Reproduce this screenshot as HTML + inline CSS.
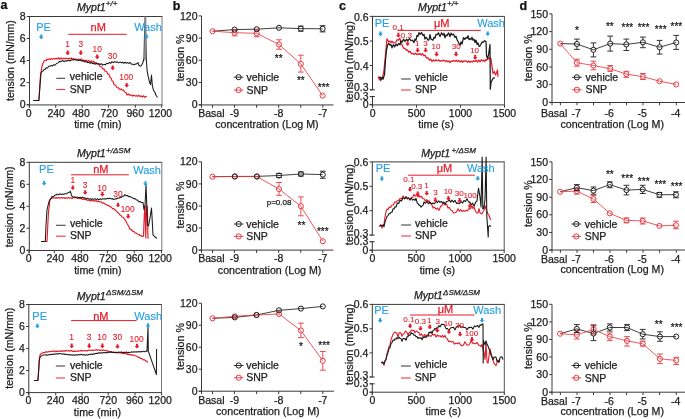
<!DOCTYPE html>
<html><head><meta charset="utf-8"><style>
html,body{margin:0;padding:0;background:#fff;}
svg{display:block;will-change:transform;}
text{font-family:"Liberation Sans",sans-serif;}
</style></head><body>
<svg width="685" height="419" viewBox="0 0 685 419">
<rect width="685" height="419" fill="#fff"/>
<text x="0.5" y="8.8" font-size="12.5" text-anchor="start" fill="#111" stroke="#111" stroke-width="0.25" font-weight="bold">a</text>
<text x="172.8" y="9.6" font-size="12.5" text-anchor="start" fill="#111" stroke="#111" stroke-width="0.25" font-weight="bold">b</text>
<text x="339" y="9.6" font-size="12.5" text-anchor="start" fill="#111" stroke="#111" stroke-width="0.25" font-weight="bold">c</text>
<text x="519.5" y="9.6" font-size="12.5" text-anchor="start" fill="#111" stroke="#111" stroke-width="0.25" font-weight="bold">d</text>
<line x1="29.5" y1="16.5" x2="162.5" y2="16.5" stroke="#3a3a3a" stroke-width="1"/>
<line x1="162" y1="16.5" x2="162" y2="104.95" stroke="#777" stroke-width="1"/>
<line x1="29.5" y1="16" x2="29.5" y2="107.75" stroke="#3a3a3a" stroke-width="1"/>
<line x1="26.7" y1="104.95" x2="162.5" y2="104.95" stroke="#3a3a3a" stroke-width="1"/>
<line x1="26.7" y1="16.5" x2="29.5" y2="16.5" stroke="#3a3a3a" stroke-width="1"/>
<text x="25.5" y="20.1" font-size="10.5" text-anchor="end" fill="#1c1c1c" stroke="#1c1c1c" stroke-width="0.25" >8</text>
<line x1="26.7" y1="38.5" x2="29.5" y2="38.5" stroke="#3a3a3a" stroke-width="1"/>
<text x="25.5" y="42.1" font-size="10.5" text-anchor="end" fill="#1c1c1c" stroke="#1c1c1c" stroke-width="0.25" >6</text>
<line x1="26.7" y1="60.5" x2="29.5" y2="60.5" stroke="#3a3a3a" stroke-width="1"/>
<text x="25.5" y="64.1" font-size="10.5" text-anchor="end" fill="#1c1c1c" stroke="#1c1c1c" stroke-width="0.25" >4</text>
<line x1="26.7" y1="82.6" x2="29.5" y2="82.6" stroke="#3a3a3a" stroke-width="1"/>
<text x="25.5" y="86.2" font-size="10.5" text-anchor="end" fill="#1c1c1c" stroke="#1c1c1c" stroke-width="0.25" >2</text>
<line x1="26.7" y1="104.6" x2="29.5" y2="104.6" stroke="#3a3a3a" stroke-width="1"/>
<text x="25.5" y="108.2" font-size="10.5" text-anchor="end" fill="#1c1c1c" stroke="#1c1c1c" stroke-width="0.25" >0</text>
<line x1="29.3" y1="104.95" x2="29.3" y2="107.75" stroke="#3a3a3a" stroke-width="1"/>
<text x="28.6" y="116.75" font-size="10.5" text-anchor="middle" fill="#1c1c1c" stroke="#1c1c1c" stroke-width="0.25" >0</text>
<line x1="55.7" y1="104.95" x2="55.7" y2="107.75" stroke="#3a3a3a" stroke-width="1"/>
<text x="56.2" y="116.75" font-size="10.5" text-anchor="middle" fill="#1c1c1c" stroke="#1c1c1c" stroke-width="0.25" >240</text>
<line x1="82.2" y1="104.95" x2="82.2" y2="107.75" stroke="#3a3a3a" stroke-width="1"/>
<text x="81" y="116.75" font-size="10.5" text-anchor="middle" fill="#1c1c1c" stroke="#1c1c1c" stroke-width="0.25" >480</text>
<line x1="108.6" y1="104.95" x2="108.6" y2="107.75" stroke="#3a3a3a" stroke-width="1"/>
<text x="109.3" y="116.75" font-size="10.5" text-anchor="middle" fill="#1c1c1c" stroke="#1c1c1c" stroke-width="0.25" >720</text>
<line x1="135.3" y1="104.95" x2="135.3" y2="107.75" stroke="#3a3a3a" stroke-width="1"/>
<text x="135.3" y="116.75" font-size="10.5" text-anchor="middle" fill="#1c1c1c" stroke="#1c1c1c" stroke-width="0.25" >960</text>
<line x1="161.7" y1="104.95" x2="161.7" y2="107.75" stroke="#3a3a3a" stroke-width="1"/>
<text x="160.4" y="116.75" font-size="10.5" text-anchor="middle" fill="#1c1c1c" stroke="#1c1c1c" stroke-width="0.25" >1200</text>
<text x="97.8" y="128" font-size="10.65" text-anchor="middle" fill="#1c1c1c" stroke="#1c1c1c" stroke-width="0.25" >time (min)</text>
<text x="0" y="0" font-size="10.55" text-anchor="middle" fill="#1c1c1c" stroke="#1c1c1c" stroke-width="0.25" transform="translate(13.6,60.6) rotate(-90)">tension (mN/mm)</text>
<text x="76.9" y="10.7" font-size="10.6" text-anchor="start" fill="#1c1c1c" stroke="#1c1c1c" stroke-width="0.25" font-style="italic">Mypt1<tspan font-size="8" dy="-4.4" dx="0">+/+</tspan></text>
<polyline points="33.3,100.5 34.42,100.5 35.54,100.5 36.66,100.5 37.78,100.5 38.9,100.5 39.5,90 40.5,75 42,66.29 43,63.21 44,61.17 45,60.31 46,60.73 47,58.99 48,59.91 49.17,58.83 50.33,59.63 51.5,58.38 52.67,59.38 53.83,58.47 55,59.04 56.25,58.16 57.5,59.2 58.75,57.68 60,59.31 61.25,57.98 62.5,58.95 63.75,58.18 65,58.65 66.25,58.35 67.5,58.96 68.75,58.14 70,58.9 71.25,57.9 72.5,59.36 73.75,58.49 75,59.5 76.25,59.11 77.5,59.66 78.75,59.12 80,59.9 81.25,58.83 82.5,60.56 83.75,59.97 85,61.27 86.25,60 87.5,61.56 88.75,60.32 90,61.98 91.25,60.85 92.5,62.18 93.75,61.21 95,63.12 96,62.51 97,63.87 98.5,63.96 100,66.46 101.5,66.79 103,69.08 104,68.8 105,71.09 106.5,71.52 108,74.28 109,74.43 110,77.28 111,77.94 112,80.84 113,81.36 114,84.65 115.5,85.27 117,87.79 118.5,87.89 120,89.63 121,88.9 122,90.08 123.5,90.08 125,92.29 126,92.5 127,95.02 128.33,93.93 129.67,95.43 131,94.8 132.33,96.06 133.67,95.08 135,96.15 136.25,95.57 137.5,96.4 138.75,95.15 140,96.58 141.13,95.95 142.27,96.99 143.4,95.75 144.53,97.32 145.67,96.4 146.8,96.8" fill="none" stroke="#e51b28" stroke-width="1.15" stroke-linejoin="round" />
<polyline points="33.3,100.5 34.42,100.5 35.54,100.5 36.66,100.5 37.78,100.5 38.9,100.5 40,86 41,73.08 42,71.49 43,71.06 44,69.49 45,69.4 46.25,67.88 47.5,67.99 48.75,66.18 50,66.16 51.25,65.55 52.5,65.95 53.75,64.66 55,65.26 56.5,63.49 58,62.87 59.5,61.42 61,61.64 62.5,60.43 64,61.44 65.5,60.78 67,61.12 68.5,60.27 70,61.06 71.5,59.72 73,59.93 74.5,59.49 76,60.12 77.33,59.9 78.67,60.63 80,60 81.5,60.94 83,60.76 84.5,61.74 86,61.62 87.33,62.51 88.67,62.35 90,63.3 91.25,62.49 92.5,63.64 93.75,63.16 95,64.3 96.25,63.08 97.5,63.98 98.75,63.6 100,64.53 101.33,63.71 102.67,65.13 104,64.34 105.33,64.87 106.67,63.33 108,63.69 109.33,62.58 110.67,63.3 112,61.69 113.33,62.61 114.67,61.64 116,62.13 117.33,61.92 118.67,62.91 120,62.15 121.25,62.78 122.5,62.22 123.75,63.25 125,62.29 126.25,63.2 127.5,62.58 128.75,63.43 130,62.53 131.5,64.21 133,64.16 134,64.8 135,64.18 136.5,63.88 138,62.68 139,65.49 140,65.94 141,65.89 142,64.49 143,62.25 144,58.31 144.6,30 145.3,17 146,45 146.5,62 147,69.84 148,75.57 149.5,82.02 150.5,84.6 151.5,75 152.3,85.46 153.5,90.41 155,92.53 156.25,95.8 157.5,97.5" fill="none" stroke="#1a1a1a" stroke-width="1.05" stroke-linejoin="round" />
<rect x="144.4" y="16.5" width="2.0" height="44" fill="#8c8c8c"/>
<text x="43.6" y="30.6" font-size="11" text-anchor="middle" fill="#22a0e6" stroke="#22a0e6" stroke-width="0.12" >PE</text>
<polygon points="40.2,34.5 42.2,34.5 42.2,36.61 43.55,36.61 41.55,38.9 40.85,38.9 38.85,36.61 40.2,36.61" fill="#22a0e6"/>
<text x="98.2" y="31" font-size="11" text-anchor="middle" fill="#e51b28" stroke="#e51b28" stroke-width="0.25" >nM</text>
<line x1="68.2" y1="34.3" x2="126.7" y2="34.3" stroke="#e51b28" stroke-width="1"/>
<text x="148" y="30.6" font-size="11" text-anchor="middle" fill="#22a0e6" stroke="#22a0e6" stroke-width="0.12" >Wash</text>
<polygon points="145.5,34.3 147.5,34.3 147.5,36.41 148.85,36.41 146.85,38.7 146.15,38.7 144.15,36.41 145.5,36.41" fill="#22a0e6"/>
<text x="67.7" y="47.4" font-size="8.4" text-anchor="middle" fill="#e51b28" stroke="#e51b28" stroke-width="0.1" >1</text>
<polygon points="66.7,50.5 68.7,50.5 68.7,52.61 70.05,52.61 68.05,54.9 67.35,54.9 65.35,52.61 66.7,52.61" fill="#e51b28"/>
<text x="80.8" y="47.4" font-size="8.4" text-anchor="middle" fill="#e51b28" stroke="#e51b28" stroke-width="0.1" >3</text>
<polygon points="79.8,50.5 81.8,50.5 81.8,52.61 83.15,52.61 81.15,54.9 80.45,54.9 78.45,52.61 79.8,52.61" fill="#e51b28"/>
<text x="97.2" y="51.5" font-size="8.4" text-anchor="middle" fill="#e51b28" stroke="#e51b28" stroke-width="0.1" >10</text>
<polygon points="96.2,54.5 98.2,54.5 98.2,56.61 99.55,56.61 97.55,58.9 96.85,58.9 94.85,56.61 96.2,56.61" fill="#e51b28"/>
<text x="112.4" y="58.6" font-size="8.4" text-anchor="middle" fill="#e51b28" stroke="#e51b28" stroke-width="0.1" >30</text>
<polygon points="111.7,65.5 113.7,65.5 113.7,67.61 115.05,67.61 113.05,69.9 112.35,69.9 110.35,67.61 111.7,67.61" fill="#e51b28"/>
<text x="126.3" y="79.8" font-size="8.4" text-anchor="middle" fill="#e51b28" stroke="#e51b28" stroke-width="0.1" >100</text>
<polygon points="125.7,82.9 127.7,82.9 127.7,85.01 129.05,85.01 127.05,87.3 126.35,87.3 124.35,85.01 125.7,85.01" fill="#e51b28"/>
<line x1="56.3" y1="78.3" x2="65.2" y2="78.3" stroke="#444" stroke-width="1.1"/>
<text x="69.8" y="80.4" font-size="10.5" text-anchor="start" fill="#1c1c1c" stroke="#1c1c1c" stroke-width="0.25" >vehicle</text>
<line x1="56.3" y1="89.5" x2="65.2" y2="89.5" stroke="#ec3b45" stroke-width="1.1"/>
<text x="69.8" y="92.5" font-size="10.5" text-anchor="start" fill="#1c1c1c" stroke="#1c1c1c" stroke-width="0.25" >SNP</text>
<line x1="201.5" y1="15.9" x2="201.5" y2="107.75" stroke="#3a3a3a" stroke-width="1"/>
<line x1="198.7" y1="104.95" x2="333.5" y2="104.95" stroke="#3a3a3a" stroke-width="1"/>
<line x1="198.7" y1="15.9" x2="201.5" y2="15.9" stroke="#3a3a3a" stroke-width="1"/>
<text x="197.5" y="19.5" font-size="10.5" text-anchor="end" fill="#1c1c1c" stroke="#1c1c1c" stroke-width="0.25" >120</text>
<line x1="198.7" y1="38.1" x2="201.5" y2="38.1" stroke="#3a3a3a" stroke-width="1"/>
<text x="197.5" y="41.7" font-size="10.5" text-anchor="end" fill="#1c1c1c" stroke="#1c1c1c" stroke-width="0.25" >90</text>
<line x1="198.7" y1="60.3" x2="201.5" y2="60.3" stroke="#3a3a3a" stroke-width="1"/>
<text x="197.5" y="63.9" font-size="10.5" text-anchor="end" fill="#1c1c1c" stroke="#1c1c1c" stroke-width="0.25" >60</text>
<line x1="198.7" y1="82.5" x2="201.5" y2="82.5" stroke="#3a3a3a" stroke-width="1"/>
<text x="197.5" y="86.1" font-size="10.5" text-anchor="end" fill="#1c1c1c" stroke="#1c1c1c" stroke-width="0.25" >30</text>
<line x1="198.7" y1="104.8" x2="201.5" y2="104.8" stroke="#3a3a3a" stroke-width="1"/>
<text x="197.5" y="108.4" font-size="10.5" text-anchor="end" fill="#1c1c1c" stroke="#1c1c1c" stroke-width="0.25" >0</text>
<line x1="212.5" y1="104.95" x2="212.5" y2="107.75" stroke="#3a3a3a" stroke-width="1"/>
<text x="211.4" y="116.55" font-size="10.5" text-anchor="middle" fill="#1c1c1c" stroke="#1c1c1c" stroke-width="0.25" >Basal</text>
<line x1="234.4" y1="104.95" x2="234.4" y2="107.75" stroke="#3a3a3a" stroke-width="1"/>
<text x="234.4" y="116.55" font-size="10.5" text-anchor="middle" fill="#1c1c1c" stroke="#1c1c1c" stroke-width="0.25" >-9</text>
<line x1="256.6" y1="104.95" x2="256.6" y2="107.75" stroke="#3a3a3a" stroke-width="1"/>
<line x1="278.7" y1="104.95" x2="278.7" y2="107.75" stroke="#3a3a3a" stroke-width="1"/>
<text x="278.7" y="116.55" font-size="10.5" text-anchor="middle" fill="#1c1c1c" stroke="#1c1c1c" stroke-width="0.25" >-8</text>
<line x1="300.8" y1="104.95" x2="300.8" y2="107.75" stroke="#3a3a3a" stroke-width="1"/>
<line x1="322.8" y1="104.95" x2="322.8" y2="107.75" stroke="#3a3a3a" stroke-width="1"/>
<text x="322.8" y="116.55" font-size="10.5" text-anchor="middle" fill="#1c1c1c" stroke="#1c1c1c" stroke-width="0.25" >-7</text>
<text x="266.9" y="128.1" font-size="10.65" text-anchor="middle" fill="#1c1c1c" stroke="#1c1c1c" stroke-width="0.25" >concentration (Log M)</text>
<text x="0" y="0" font-size="10.7" text-anchor="middle" fill="#1c1c1c" stroke="#1c1c1c" stroke-width="0.25" transform="translate(184.4,57.9) rotate(-90)">tension %</text>
<polyline points="212.6,31.2 234.6,29.6 256.7,29.2 279,27.8 300.8,28.6 322.6,28.8" fill="none" stroke="#1e1e1e" stroke-width="0.85" stroke-linejoin="round" />
<polyline points="212.6,31.2 234.6,32.7 256.7,33.3 279,44.5 300.8,63.9 322.6,95.6" fill="none" stroke="#ea3a42" stroke-width="0.85" stroke-linejoin="round" />
<circle cx="212.6" cy="31.2" r="2.55" fill="none" stroke="#ea3a42" stroke-width="1.0"/>
<line x1="234.6" y1="35.25" x2="234.6" y2="35.9" stroke="#ea3a42" stroke-width="0.9"/>
<line x1="231.7" y1="30.2" x2="237.5" y2="30.2" stroke="#ea3a42" stroke-width="0.9"/>
<line x1="231.7" y1="35.9" x2="237.5" y2="35.9" stroke="#ea3a42" stroke-width="0.9"/>
<circle cx="234.6" cy="32.7" r="2.55" fill="none" stroke="#ea3a42" stroke-width="1.0"/>
<line x1="256.7" y1="30.2" x2="256.7" y2="30.75" stroke="#ea3a42" stroke-width="0.9"/>
<line x1="256.7" y1="35.85" x2="256.7" y2="36.8" stroke="#ea3a42" stroke-width="0.9"/>
<line x1="253.8" y1="30.2" x2="259.6" y2="30.2" stroke="#ea3a42" stroke-width="0.9"/>
<line x1="253.8" y1="36.8" x2="259.6" y2="36.8" stroke="#ea3a42" stroke-width="0.9"/>
<circle cx="256.7" cy="33.3" r="2.55" fill="none" stroke="#ea3a42" stroke-width="1.0"/>
<line x1="279" y1="39.8" x2="279" y2="41.95" stroke="#ea3a42" stroke-width="0.9"/>
<line x1="279" y1="47.05" x2="279" y2="49.2" stroke="#ea3a42" stroke-width="0.9"/>
<line x1="276.1" y1="39.8" x2="281.9" y2="39.8" stroke="#ea3a42" stroke-width="0.9"/>
<line x1="276.1" y1="49.2" x2="281.9" y2="49.2" stroke="#ea3a42" stroke-width="0.9"/>
<circle cx="279" cy="44.5" r="2.55" fill="none" stroke="#ea3a42" stroke-width="1.0"/>
<line x1="300.8" y1="55.2" x2="300.8" y2="61.35" stroke="#ea3a42" stroke-width="0.9"/>
<line x1="300.8" y1="66.45" x2="300.8" y2="72.1" stroke="#ea3a42" stroke-width="0.9"/>
<line x1="297.9" y1="55.2" x2="303.7" y2="55.2" stroke="#ea3a42" stroke-width="0.9"/>
<line x1="297.9" y1="72.1" x2="303.7" y2="72.1" stroke="#ea3a42" stroke-width="0.9"/>
<circle cx="300.8" cy="63.9" r="2.55" fill="none" stroke="#ea3a42" stroke-width="1.0"/>
<circle cx="322.6" cy="95.6" r="2.55" fill="none" stroke="#ea3a42" stroke-width="1.0"/>
<circle cx="234.6" cy="29.6" r="2.55" fill="none" stroke="#1e1e1e" stroke-width="1.0"/>
<circle cx="256.7" cy="29.2" r="2.55" fill="none" stroke="#1e1e1e" stroke-width="1.0"/>
<circle cx="279" cy="27.8" r="2.55" fill="none" stroke="#1e1e1e" stroke-width="1.0"/>
<line x1="300.8" y1="31.15" x2="300.8" y2="31.2" stroke="#1e1e1e" stroke-width="0.9"/>
<line x1="297.9" y1="26.1" x2="303.7" y2="26.1" stroke="#1e1e1e" stroke-width="0.9"/>
<line x1="297.9" y1="31.2" x2="303.7" y2="31.2" stroke="#1e1e1e" stroke-width="0.9"/>
<circle cx="300.8" cy="28.6" r="2.55" fill="none" stroke="#1e1e1e" stroke-width="1.0"/>
<line x1="322.6" y1="25.7" x2="322.6" y2="26.25" stroke="#1e1e1e" stroke-width="0.9"/>
<line x1="322.6" y1="31.35" x2="322.6" y2="31.9" stroke="#1e1e1e" stroke-width="0.9"/>
<line x1="319.7" y1="25.7" x2="325.5" y2="25.7" stroke="#1e1e1e" stroke-width="0.9"/>
<line x1="319.7" y1="31.9" x2="325.5" y2="31.9" stroke="#1e1e1e" stroke-width="0.9"/>
<circle cx="322.6" cy="28.8" r="2.55" fill="none" stroke="#1e1e1e" stroke-width="1.0"/>
<text x="278.7" y="61.9" font-size="10" text-anchor="middle" fill="#1c1c1c" stroke="#1c1c1c" stroke-width="0.25" >**</text>
<text x="300.8" y="83.9" font-size="10" text-anchor="middle" fill="#1c1c1c" stroke="#1c1c1c" stroke-width="0.25" >**</text>
<text x="323.6" y="90.5" font-size="10" text-anchor="middle" fill="#1c1c1c" stroke="#1c1c1c" stroke-width="0.25" >***</text>
<line x1="233.8" y1="77.2" x2="243.4" y2="77.2" stroke="#1e1e1e" stroke-width="0.9"/>
<circle cx="238.6" cy="77.2" r="2.6" fill="none" stroke="#1e1e1e" stroke-width="1.0"/>
<line x1="233.8" y1="90.1" x2="243.4" y2="90.1" stroke="#ea3a42" stroke-width="0.9"/>
<circle cx="238.6" cy="90.1" r="2.6" fill="none" stroke="#ea3a42" stroke-width="1.0"/>
<text x="246.4" y="80.8" font-size="10.5" text-anchor="start" fill="#1c1c1c" stroke="#1c1c1c" stroke-width="0.25" >vehicle</text>
<text x="246.4" y="93.7" font-size="10.5" text-anchor="start" fill="#1c1c1c" stroke="#1c1c1c" stroke-width="0.25" >SNP</text>
<line x1="372.5" y1="16.4" x2="505" y2="16.4" stroke="#3a3a3a" stroke-width="1"/>
<line x1="504.5" y1="16.4" x2="504.5" y2="104.9" stroke="#555" stroke-width="1"/>
<line x1="372.5" y1="15.9" x2="372.5" y2="89.8" stroke="#3a3a3a" stroke-width="1"/>
<line x1="370.1" y1="89.8" x2="374.9" y2="89.8" stroke="#3a3a3a" stroke-width="1"/>
<line x1="372.5" y1="96.5" x2="372.5" y2="107.7" stroke="#3a3a3a" stroke-width="1"/>
<line x1="370.1" y1="96.5" x2="374.9" y2="96.5" stroke="#3a3a3a" stroke-width="1"/>
<line x1="369.7" y1="104.9" x2="505" y2="104.9" stroke="#3a3a3a" stroke-width="1"/>
<line x1="369.7" y1="16.4" x2="372.5" y2="16.4" stroke="#3a3a3a" stroke-width="1"/>
<text x="368.5" y="20.8" font-size="10.5" text-anchor="end" fill="#1c1c1c" stroke="#1c1c1c" stroke-width="0.25" >0.6</text>
<line x1="369.7" y1="41" x2="372.5" y2="41" stroke="#3a3a3a" stroke-width="1"/>
<text x="368.5" y="45.4" font-size="10.5" text-anchor="end" fill="#1c1c1c" stroke="#1c1c1c" stroke-width="0.25" >0.5</text>
<line x1="369.7" y1="65.5" x2="372.5" y2="65.5" stroke="#3a3a3a" stroke-width="1"/>
<text x="368.5" y="69.9" font-size="10.5" text-anchor="end" fill="#1c1c1c" stroke="#1c1c1c" stroke-width="0.25" >0.4</text>
<line x1="369.7" y1="89.8" x2="372.5" y2="89.8" stroke="#3a3a3a" stroke-width="1"/>
<text x="368.5" y="91.1" font-size="10.5" text-anchor="end" fill="#1c1c1c" stroke="#1c1c1c" stroke-width="0.25" >0.3</text>
<line x1="369.7" y1="96.7" x2="372.5" y2="96.7" stroke="#3a3a3a" stroke-width="1"/>
<text x="368.5" y="100.1" font-size="10.5" text-anchor="end" fill="#1c1c1c" stroke="#1c1c1c" stroke-width="0.25" >0.3</text>
<line x1="369.7" y1="104.4" x2="372.5" y2="104.4" stroke="#3a3a3a" stroke-width="1"/>
<text x="368.5" y="108" font-size="10.5" text-anchor="end" fill="#1c1c1c" stroke="#1c1c1c" stroke-width="0.25" >0</text>
<line x1="372.6" y1="104.9" x2="372.6" y2="107.7" stroke="#3a3a3a" stroke-width="1"/>
<text x="372.6" y="116.7" font-size="10.5" text-anchor="middle" fill="#1c1c1c" stroke="#1c1c1c" stroke-width="0.25" >0</text>
<line x1="416.57" y1="104.9" x2="416.57" y2="107.7" stroke="#3a3a3a" stroke-width="1"/>
<text x="416.57" y="116.7" font-size="10.5" text-anchor="middle" fill="#1c1c1c" stroke="#1c1c1c" stroke-width="0.25" >500</text>
<line x1="460.53" y1="104.9" x2="460.53" y2="107.7" stroke="#3a3a3a" stroke-width="1"/>
<text x="460.53" y="116.7" font-size="10.5" text-anchor="middle" fill="#1c1c1c" stroke="#1c1c1c" stroke-width="0.25" >1000</text>
<line x1="504.5" y1="104.9" x2="504.5" y2="107.7" stroke="#3a3a3a" stroke-width="1"/>
<text x="504.5" y="116.7" font-size="10.5" text-anchor="middle" fill="#1c1c1c" stroke="#1c1c1c" stroke-width="0.25" >1500</text>
<text x="436" y="128.2" font-size="10.65" text-anchor="middle" fill="#1c1c1c" stroke="#1c1c1c" stroke-width="0.25" >time (s)</text>
<text x="0" y="0" font-size="11.0" text-anchor="middle" fill="#1c1c1c" stroke="#1c1c1c" stroke-width="0.25" transform="translate(353.3,61.8) rotate(-90)">tension (mN/mg)</text>
<text x="418.1" y="10.7" font-size="10.6" text-anchor="start" fill="#1c1c1c" stroke="#1c1c1c" stroke-width="0.25" font-style="italic">Mypt1<tspan font-size="8" dy="-4.4" dx="0">+/+</tspan></text>
<polyline points="378,76.39 379,78.74 380.5,80.54 381.5,78.44 382.5,77.73 384,70 385.5,55 387,38.76 388.5,41.67 390,41.09 391,42.68 392,41.23 393.5,42.97 395,42.58 396,41.83 397,39.74 398.5,40.02 400,38.27 401,43.34 402,44.58 403.5,48.11 405,48.55 406.25,50.18 407.5,49.8 408.75,52.22 410,51.24 411.5,53.89 413,53.35 414.25,54.46 415.5,53.06 416.75,54.61 418,53.77 419,54.46 420,53.35 421.25,55.14 422.5,53.63 423.75,55.78 425,55.15 426.5,58.01 428,57.7 429.33,60.19 430.67,59.04 432,61.44 433.5,60 435,61.02 436.25,59.78 437.5,60.72 438.75,60 440,61.42 441.25,60.42 442.5,60.96 443.75,60.12 445,61.43 446.25,60.46 447.5,61.86 448.75,60.89 450,62.6 451.25,60.9 452.5,61.55 453.75,60.4 455,61.26 456.25,60.33 457.5,61.5 458.75,60.39 460,61.96 461.25,60.69 462.5,62.26 463.75,60.87 465,61.22 466.25,60.87 467.5,62.38 468.75,61.01 470,62.39 471.25,61.33 472.5,61.93 473.75,60.81 475,61.41 476.25,60.33 477.5,62.1 478.75,59.99 480,61.85 481.2,59.8 482.4,60.9 483.6,60.14 484.8,61.51 486,59.41 487,60.2 488,57.95 489,59 490,57.5 491,59 492,66.7 493,73.3 494.5,71.7 495.5,75 496.5,73.3 497.5,70 498,76.7" fill="none" stroke="#e51b28" stroke-width="1.25" stroke-linejoin="round" />
<polyline points="379,77.63 380,76.9 381,79.84 382,77.31 383,79.23 384.5,74.63 385.5,60 386.5,50 387.5,45.29 388.75,43.2 390,45.17 391,44.62 392,47.79 393.33,44.68 394.67,46.88 396,44 397.33,45.75 398.67,43.5 400,44.74 401,40.75 402,42.27 403.5,39.2 405,41.3 406.5,39.28 408,40.73 409.5,38.48 411,40.73 412.5,40.18 414,42.59 415,39.01 416,40.37 417,35.39 418,36.36 419,32.62 420,34.47 421.5,32.6 423,35.55 424,34.3 425,39.01 426,37.28 427,38.48 428,40.2 429,39.9 430,34.56 431,39.13 432,39.57 433,40.2 434,37.14 435,38.21 436,34.33 437,34.76 438.5,32.8 440,36.61 441.5,32.76 443,35.18 444,33.26 445,37.8 446,34.83 447,35.79 448.5,32.85 450,36.65 451,33.16 452,34.96 453.5,34.16 455,37.44 456,36.2 457,39.51 458.5,42.53 460,45.38 461,41.92 462,44.01 463.5,37.61 464.75,39.45 466,37.5 467,38.27 468,35.65 469,39.71 470,38.76 471,39.61 472,37.36 473,40.22 474,39.22 475,42.52 476,40.03 477,44.29 478,42.9 479,46.29 480,46.01 481,44.19 482,42.03 483,42.27 484.5,40.71 486,41.5 486.5,55.8 487.5,58.3 488.5,55 490,44.5 490.3,89.2 491,82.5 492,80.4 493.5,77.79 495,78" fill="none" stroke="#1a1a1a" stroke-width="1.25" stroke-linejoin="round" />
<text x="382.1" y="27.2" font-size="11" text-anchor="middle" fill="#22a0e6" stroke="#22a0e6" stroke-width="0.12" >PE</text>
<polygon points="379.5,31.5 381.5,31.5 381.5,33.61 382.85,33.61 380.85,35.9 380.15,35.9 378.15,33.61 379.5,33.61" fill="#22a0e6"/>
<text x="441.8" y="26.6" font-size="11" text-anchor="middle" fill="#e51b28" stroke="#e51b28" stroke-width="0.25" >μM</text>
<line x1="397.6" y1="30.4" x2="480.8" y2="30.4" stroke="#e51b28" stroke-width="1"/>
<text x="491.1" y="27.3" font-size="11" text-anchor="middle" fill="#22a0e6" stroke="#22a0e6" stroke-width="0.12" >Wash</text>
<polygon points="486.7,31.4 488.7,31.4 488.7,33.51 490.05,33.51 488.05,35.8 487.35,35.8 485.35,33.51 486.7,33.51" fill="#22a0e6"/>
<text x="398.1" y="30.2" font-size="8.0" text-anchor="middle" fill="#e51b28" stroke="#e51b28" stroke-width="0.1" >0.1</text>
<polygon points="397.4,32.8 399.4,32.8 399.4,34.91 400.75,34.91 398.75,37.2 398.05,37.2 396.05,34.91 397.4,34.91" fill="#e51b28"/>
<text x="406.3" y="37.7" font-size="8.0" text-anchor="middle" fill="#e51b28" stroke="#e51b28" stroke-width="0.1" >0.3</text>
<polygon points="406.6,41.3 408.6,41.3 408.6,43.41 409.95,43.41 407.95,45.7 407.25,45.7 405.25,43.41 406.6,43.41" fill="#e51b28"/>
<text x="417.3" y="45.7" font-size="8.0" text-anchor="middle" fill="#e51b28" stroke="#e51b28" stroke-width="0.1" >1</text>
<polygon points="416.6,47.8 418.6,47.8 418.6,49.91 419.95,49.91 417.95,52.2 417.25,52.2 415.25,49.91 416.6,49.91" fill="#e51b28"/>
<text x="425.6" y="45.7" font-size="8.0" text-anchor="middle" fill="#e51b28" stroke="#e51b28" stroke-width="0.1" >3</text>
<polygon points="424.6,47.8 426.6,47.8 426.6,49.91 427.95,49.91 425.95,52.2 425.25,52.2 423.25,49.91 424.6,49.91" fill="#e51b28"/>
<text x="435.9" y="48.6" font-size="8.0" text-anchor="middle" fill="#e51b28" stroke="#e51b28" stroke-width="0.1" >10</text>
<polygon points="435.6,51.8 437.6,51.8 437.6,53.91 438.95,53.91 436.95,56.2 436.25,56.2 434.25,53.91 435.6,53.91" fill="#e51b28"/>
<text x="456.2" y="49" font-size="8.0" text-anchor="middle" fill="#e51b28" stroke="#e51b28" stroke-width="0.1" >30</text>
<polygon points="455.1,51.8 457.1,51.8 457.1,53.91 458.45,53.91 456.45,56.2 455.75,56.2 453.75,53.91 455.1,53.91" fill="#e51b28"/>
<text x="474.6" y="53" font-size="8.0" text-anchor="middle" fill="#e51b28" stroke="#e51b28" stroke-width="0.1" >10</text>
<polygon points="474.2,55.1 476.2,55.1 476.2,57.21 477.55,57.21 475.55,59.5 474.85,59.5 472.85,57.21 474.2,57.21" fill="#e51b28"/>
<line x1="401.1" y1="79" x2="410.8" y2="79" stroke="#444" stroke-width="1.1"/>
<text x="415.1" y="80.7" font-size="10.5" text-anchor="start" fill="#1c1c1c" stroke="#1c1c1c" stroke-width="0.25" >vehicle</text>
<line x1="401.1" y1="90" x2="410.8" y2="90" stroke="#ec3b45" stroke-width="1.1"/>
<text x="415.1" y="93.2" font-size="10.5" text-anchor="start" fill="#1c1c1c" stroke="#1c1c1c" stroke-width="0.25" >SNP</text>
<line x1="552" y1="13.9" x2="552" y2="105.3" stroke="#3a3a3a" stroke-width="1"/>
<line x1="549.2" y1="102.5" x2="685" y2="102.5" stroke="#3a3a3a" stroke-width="1"/>
<line x1="549.2" y1="13.9" x2="552" y2="13.9" stroke="#3a3a3a" stroke-width="1"/>
<text x="548" y="17.5" font-size="10.5" text-anchor="end" fill="#1c1c1c" stroke="#1c1c1c" stroke-width="0.25" >150</text>
<line x1="549.2" y1="31.6" x2="552" y2="31.6" stroke="#3a3a3a" stroke-width="1"/>
<text x="548" y="35.2" font-size="10.5" text-anchor="end" fill="#1c1c1c" stroke="#1c1c1c" stroke-width="0.25" >120</text>
<line x1="549.2" y1="49.3" x2="552" y2="49.3" stroke="#3a3a3a" stroke-width="1"/>
<text x="548" y="52.9" font-size="10.5" text-anchor="end" fill="#1c1c1c" stroke="#1c1c1c" stroke-width="0.25" >90</text>
<line x1="549.2" y1="67" x2="552" y2="67" stroke="#3a3a3a" stroke-width="1"/>
<text x="548" y="70.6" font-size="10.5" text-anchor="end" fill="#1c1c1c" stroke="#1c1c1c" stroke-width="0.25" >60</text>
<line x1="549.2" y1="84.6" x2="552" y2="84.6" stroke="#3a3a3a" stroke-width="1"/>
<text x="548" y="88.2" font-size="10.5" text-anchor="end" fill="#1c1c1c" stroke="#1c1c1c" stroke-width="0.25" >30</text>
<line x1="549.2" y1="102.3" x2="552" y2="102.3" stroke="#3a3a3a" stroke-width="1"/>
<text x="548" y="105.9" font-size="10.5" text-anchor="end" fill="#1c1c1c" stroke="#1c1c1c" stroke-width="0.25" >0</text>
<line x1="560.4" y1="102.5" x2="560.4" y2="105.3" stroke="#3a3a3a" stroke-width="1"/>
<text x="554.1" y="116.5" font-size="10.5" text-anchor="middle" fill="#1c1c1c" stroke="#1c1c1c" stroke-width="0.25" >Basal</text>
<line x1="577" y1="102.5" x2="577" y2="105.3" stroke="#3a3a3a" stroke-width="1"/>
<text x="576.2" y="116.5" font-size="10.5" text-anchor="middle" fill="#1c1c1c" stroke="#1c1c1c" stroke-width="0.25" >-7</text>
<line x1="593.5" y1="102.5" x2="593.5" y2="105.3" stroke="#3a3a3a" stroke-width="1"/>
<line x1="610" y1="102.5" x2="610" y2="105.3" stroke="#3a3a3a" stroke-width="1"/>
<text x="609.2" y="116.5" font-size="10.5" text-anchor="middle" fill="#1c1c1c" stroke="#1c1c1c" stroke-width="0.25" >-6</text>
<line x1="626.6" y1="102.5" x2="626.6" y2="105.3" stroke="#3a3a3a" stroke-width="1"/>
<line x1="643" y1="102.5" x2="643" y2="105.3" stroke="#3a3a3a" stroke-width="1"/>
<text x="642.2" y="116.5" font-size="10.5" text-anchor="middle" fill="#1c1c1c" stroke="#1c1c1c" stroke-width="0.25" >-5</text>
<line x1="659.6" y1="102.5" x2="659.6" y2="105.3" stroke="#3a3a3a" stroke-width="1"/>
<line x1="676.3" y1="102.5" x2="676.3" y2="105.3" stroke="#3a3a3a" stroke-width="1"/>
<text x="675.6" y="116.5" font-size="10.5" text-anchor="middle" fill="#1c1c1c" stroke="#1c1c1c" stroke-width="0.25" >-4</text>
<text x="612.2" y="127.6" font-size="10.65" text-anchor="middle" fill="#1c1c1c" stroke="#1c1c1c" stroke-width="0.25" >concentration (Log M)</text>
<text x="0" y="0" font-size="10.7" text-anchor="middle" fill="#1c1c1c" stroke="#1c1c1c" stroke-width="0.25" transform="translate(532.3,57.7) rotate(-90)">tension %</text>
<polyline points="560.3,43.6 576.9,44 593.4,49.8 610.2,43.6 626.3,44.4 642.9,42.3 659.6,47.2 676.2,42.5" fill="none" stroke="#1e1e1e" stroke-width="0.85" stroke-linejoin="round" />
<polyline points="560.3,43.6 576.9,62.7 593.4,65.5 610.2,68.7 626.3,74.1 642.9,76.7 659.6,81.2 676.2,84.4" fill="none" stroke="#ea3a42" stroke-width="0.85" stroke-linejoin="round" />
<circle cx="560.3" cy="43.6" r="2.55" fill="none" stroke="#ea3a42" stroke-width="1.0"/>
<line x1="576.9" y1="59.1" x2="576.9" y2="60.15" stroke="#ea3a42" stroke-width="0.9"/>
<line x1="576.9" y1="65.25" x2="576.9" y2="66.2" stroke="#ea3a42" stroke-width="0.9"/>
<line x1="574" y1="59.1" x2="579.8" y2="59.1" stroke="#ea3a42" stroke-width="0.9"/>
<line x1="574" y1="66.2" x2="579.8" y2="66.2" stroke="#ea3a42" stroke-width="0.9"/>
<circle cx="576.9" cy="62.7" r="2.55" fill="none" stroke="#ea3a42" stroke-width="1.0"/>
<line x1="593.4" y1="61.2" x2="593.4" y2="62.95" stroke="#ea3a42" stroke-width="0.9"/>
<line x1="593.4" y1="68.05" x2="593.4" y2="69.8" stroke="#ea3a42" stroke-width="0.9"/>
<line x1="590.5" y1="61.2" x2="596.3" y2="61.2" stroke="#ea3a42" stroke-width="0.9"/>
<line x1="590.5" y1="69.8" x2="596.3" y2="69.8" stroke="#ea3a42" stroke-width="0.9"/>
<circle cx="593.4" cy="65.5" r="2.55" fill="none" stroke="#ea3a42" stroke-width="1.0"/>
<line x1="610.2" y1="65.5" x2="610.2" y2="66.15" stroke="#ea3a42" stroke-width="0.9"/>
<line x1="610.2" y1="71.25" x2="610.2" y2="71.3" stroke="#ea3a42" stroke-width="0.9"/>
<line x1="607.3" y1="65.5" x2="613.1" y2="65.5" stroke="#ea3a42" stroke-width="0.9"/>
<line x1="607.3" y1="71.3" x2="613.1" y2="71.3" stroke="#ea3a42" stroke-width="0.9"/>
<circle cx="610.2" cy="68.7" r="2.55" fill="none" stroke="#ea3a42" stroke-width="1.0"/>
<line x1="626.3" y1="71.3" x2="626.3" y2="71.55" stroke="#ea3a42" stroke-width="0.9"/>
<line x1="626.3" y1="76.65" x2="626.3" y2="77.3" stroke="#ea3a42" stroke-width="0.9"/>
<line x1="623.4" y1="71.3" x2="629.2" y2="71.3" stroke="#ea3a42" stroke-width="0.9"/>
<line x1="623.4" y1="77.3" x2="629.2" y2="77.3" stroke="#ea3a42" stroke-width="0.9"/>
<circle cx="626.3" cy="74.1" r="2.55" fill="none" stroke="#ea3a42" stroke-width="1.0"/>
<line x1="642.9" y1="73.5" x2="642.9" y2="74.15" stroke="#ea3a42" stroke-width="0.9"/>
<line x1="642.9" y1="79.25" x2="642.9" y2="79.5" stroke="#ea3a42" stroke-width="0.9"/>
<line x1="640" y1="73.5" x2="645.8" y2="73.5" stroke="#ea3a42" stroke-width="0.9"/>
<line x1="640" y1="79.5" x2="645.8" y2="79.5" stroke="#ea3a42" stroke-width="0.9"/>
<circle cx="642.9" cy="76.7" r="2.55" fill="none" stroke="#ea3a42" stroke-width="1.0"/>
<circle cx="659.6" cy="81.2" r="2.55" fill="none" stroke="#ea3a42" stroke-width="1.0"/>
<circle cx="676.2" cy="84.4" r="2.55" fill="none" stroke="#ea3a42" stroke-width="1.0"/>
<line x1="576.9" y1="39.1" x2="576.9" y2="41.45" stroke="#1e1e1e" stroke-width="0.9"/>
<line x1="576.9" y1="46.55" x2="576.9" y2="49.4" stroke="#1e1e1e" stroke-width="0.9"/>
<line x1="574" y1="39.1" x2="579.8" y2="39.1" stroke="#1e1e1e" stroke-width="0.9"/>
<line x1="574" y1="49.4" x2="579.8" y2="49.4" stroke="#1e1e1e" stroke-width="0.9"/>
<circle cx="576.9" cy="44" r="2.55" fill="none" stroke="#1e1e1e" stroke-width="1.0"/>
<line x1="593.4" y1="42.9" x2="593.4" y2="47.25" stroke="#1e1e1e" stroke-width="0.9"/>
<line x1="593.4" y1="52.35" x2="593.4" y2="56.9" stroke="#1e1e1e" stroke-width="0.9"/>
<line x1="590.5" y1="42.9" x2="596.3" y2="42.9" stroke="#1e1e1e" stroke-width="0.9"/>
<line x1="590.5" y1="56.9" x2="596.3" y2="56.9" stroke="#1e1e1e" stroke-width="0.9"/>
<circle cx="593.4" cy="49.8" r="2.55" fill="none" stroke="#1e1e1e" stroke-width="1.0"/>
<line x1="610.2" y1="36.1" x2="610.2" y2="41.05" stroke="#1e1e1e" stroke-width="0.9"/>
<line x1="610.2" y1="46.15" x2="610.2" y2="51.1" stroke="#1e1e1e" stroke-width="0.9"/>
<line x1="607.3" y1="36.1" x2="613.1" y2="36.1" stroke="#1e1e1e" stroke-width="0.9"/>
<line x1="607.3" y1="51.1" x2="613.1" y2="51.1" stroke="#1e1e1e" stroke-width="0.9"/>
<circle cx="610.2" cy="43.6" r="2.55" fill="none" stroke="#1e1e1e" stroke-width="1.0"/>
<line x1="626.3" y1="39.1" x2="626.3" y2="41.85" stroke="#1e1e1e" stroke-width="0.9"/>
<line x1="626.3" y1="46.95" x2="626.3" y2="50.5" stroke="#1e1e1e" stroke-width="0.9"/>
<line x1="623.4" y1="39.1" x2="629.2" y2="39.1" stroke="#1e1e1e" stroke-width="0.9"/>
<line x1="623.4" y1="50.5" x2="629.2" y2="50.5" stroke="#1e1e1e" stroke-width="0.9"/>
<circle cx="626.3" cy="44.4" r="2.55" fill="none" stroke="#1e1e1e" stroke-width="1.0"/>
<line x1="642.9" y1="37.1" x2="642.9" y2="39.75" stroke="#1e1e1e" stroke-width="0.9"/>
<line x1="642.9" y1="44.85" x2="642.9" y2="47.7" stroke="#1e1e1e" stroke-width="0.9"/>
<line x1="640" y1="37.1" x2="645.8" y2="37.1" stroke="#1e1e1e" stroke-width="0.9"/>
<line x1="640" y1="47.7" x2="645.8" y2="47.7" stroke="#1e1e1e" stroke-width="0.9"/>
<circle cx="642.9" cy="42.3" r="2.55" fill="none" stroke="#1e1e1e" stroke-width="1.0"/>
<line x1="659.6" y1="40.4" x2="659.6" y2="44.65" stroke="#1e1e1e" stroke-width="0.9"/>
<line x1="659.6" y1="49.75" x2="659.6" y2="54.1" stroke="#1e1e1e" stroke-width="0.9"/>
<line x1="656.7" y1="40.4" x2="662.5" y2="40.4" stroke="#1e1e1e" stroke-width="0.9"/>
<line x1="656.7" y1="54.1" x2="662.5" y2="54.1" stroke="#1e1e1e" stroke-width="0.9"/>
<circle cx="659.6" cy="47.2" r="2.55" fill="none" stroke="#1e1e1e" stroke-width="1.0"/>
<line x1="676.2" y1="35.4" x2="676.2" y2="39.95" stroke="#1e1e1e" stroke-width="0.9"/>
<line x1="676.2" y1="45.05" x2="676.2" y2="49.4" stroke="#1e1e1e" stroke-width="0.9"/>
<line x1="673.3" y1="35.4" x2="679.1" y2="35.4" stroke="#1e1e1e" stroke-width="0.9"/>
<line x1="673.3" y1="49.4" x2="679.1" y2="49.4" stroke="#1e1e1e" stroke-width="0.9"/>
<circle cx="676.2" cy="42.5" r="2.55" fill="none" stroke="#1e1e1e" stroke-width="1.0"/>
<text x="576.9" y="34" font-size="10" text-anchor="middle" fill="#1c1c1c" stroke="#1c1c1c" stroke-width="0.25" >*</text>
<text x="609.8" y="30.1" font-size="10" text-anchor="middle" fill="#1c1c1c" stroke="#1c1c1c" stroke-width="0.25" >**</text>
<text x="627.4" y="30.8" font-size="10" text-anchor="middle" fill="#1c1c1c" stroke="#1c1c1c" stroke-width="0.25" >***</text>
<text x="643.5" y="31.4" font-size="10" text-anchor="middle" fill="#1c1c1c" stroke="#1c1c1c" stroke-width="0.25" >***</text>
<text x="660.7" y="32.9" font-size="10" text-anchor="middle" fill="#1c1c1c" stroke="#1c1c1c" stroke-width="0.25" >***</text>
<text x="676.4" y="30.1" font-size="10" text-anchor="middle" fill="#1c1c1c" stroke="#1c1c1c" stroke-width="0.25" >***</text>
<line x1="572.1" y1="77.3" x2="581.7" y2="77.3" stroke="#1e1e1e" stroke-width="0.9"/>
<circle cx="576.9" cy="77.3" r="2.6" fill="none" stroke="#1e1e1e" stroke-width="1.0"/>
<line x1="572.1" y1="89.8" x2="581.7" y2="89.8" stroke="#ea3a42" stroke-width="0.9"/>
<circle cx="576.9" cy="89.8" r="2.6" fill="none" stroke="#ea3a42" stroke-width="1.0"/>
<text x="585.5" y="80.9" font-size="10.5" text-anchor="start" fill="#1c1c1c" stroke="#1c1c1c" stroke-width="0.25" >vehicle</text>
<text x="585.5" y="93.4" font-size="10.5" text-anchor="start" fill="#1c1c1c" stroke="#1c1c1c" stroke-width="0.25" >SNP</text>
<line x1="29.3" y1="162.3" x2="162.3" y2="162.3" stroke="#3a3a3a" stroke-width="1"/>
<line x1="161.8" y1="162.3" x2="161.8" y2="250.5" stroke="#777" stroke-width="1"/>
<line x1="29.3" y1="161.8" x2="29.3" y2="253.3" stroke="#3a3a3a" stroke-width="1"/>
<line x1="26.5" y1="250.5" x2="162.3" y2="250.5" stroke="#3a3a3a" stroke-width="1"/>
<line x1="26.5" y1="162.3" x2="29.3" y2="162.3" stroke="#3a3a3a" stroke-width="1"/>
<text x="25.3" y="165.9" font-size="10.5" text-anchor="end" fill="#1c1c1c" stroke="#1c1c1c" stroke-width="0.25" >8</text>
<line x1="26.5" y1="184.3" x2="29.3" y2="184.3" stroke="#3a3a3a" stroke-width="1"/>
<text x="25.3" y="187.9" font-size="10.5" text-anchor="end" fill="#1c1c1c" stroke="#1c1c1c" stroke-width="0.25" >6</text>
<line x1="26.5" y1="206.3" x2="29.3" y2="206.3" stroke="#3a3a3a" stroke-width="1"/>
<text x="25.3" y="209.9" font-size="10.5" text-anchor="end" fill="#1c1c1c" stroke="#1c1c1c" stroke-width="0.25" >4</text>
<line x1="26.5" y1="228.2" x2="29.3" y2="228.2" stroke="#3a3a3a" stroke-width="1"/>
<text x="25.3" y="231.8" font-size="10.5" text-anchor="end" fill="#1c1c1c" stroke="#1c1c1c" stroke-width="0.25" >2</text>
<line x1="26.5" y1="250.2" x2="29.3" y2="250.2" stroke="#3a3a3a" stroke-width="1"/>
<text x="25.3" y="253.8" font-size="10.5" text-anchor="end" fill="#1c1c1c" stroke="#1c1c1c" stroke-width="0.25" >0</text>
<line x1="28.9" y1="250.5" x2="28.9" y2="253.3" stroke="#3a3a3a" stroke-width="1"/>
<text x="28.7" y="262.3" font-size="10.5" text-anchor="middle" fill="#1c1c1c" stroke="#1c1c1c" stroke-width="0.25" >0</text>
<line x1="54.3" y1="250.5" x2="54.3" y2="253.3" stroke="#3a3a3a" stroke-width="1"/>
<text x="55.3" y="262.3" font-size="10.5" text-anchor="middle" fill="#1c1c1c" stroke="#1c1c1c" stroke-width="0.25" >240</text>
<line x1="81.3" y1="250.5" x2="81.3" y2="253.3" stroke="#3a3a3a" stroke-width="1"/>
<text x="79.9" y="262.3" font-size="10.5" text-anchor="middle" fill="#1c1c1c" stroke="#1c1c1c" stroke-width="0.25" >480</text>
<line x1="107.4" y1="250.5" x2="107.4" y2="253.3" stroke="#3a3a3a" stroke-width="1"/>
<text x="108.1" y="262.3" font-size="10.5" text-anchor="middle" fill="#1c1c1c" stroke="#1c1c1c" stroke-width="0.25" >720</text>
<line x1="134.3" y1="250.5" x2="134.3" y2="253.3" stroke="#3a3a3a" stroke-width="1"/>
<text x="134.7" y="262.3" font-size="10.5" text-anchor="middle" fill="#1c1c1c" stroke="#1c1c1c" stroke-width="0.25" >960</text>
<line x1="161.5" y1="250.5" x2="161.5" y2="253.3" stroke="#3a3a3a" stroke-width="1"/>
<text x="160.2" y="262.3" font-size="10.5" text-anchor="middle" fill="#1c1c1c" stroke="#1c1c1c" stroke-width="0.25" >1200</text>
<text x="97.8" y="273.7" font-size="10.65" text-anchor="middle" fill="#1c1c1c" stroke="#1c1c1c" stroke-width="0.25" >time (min)</text>
<text x="0" y="0" font-size="10.55" text-anchor="middle" fill="#1c1c1c" stroke="#1c1c1c" stroke-width="0.25" transform="translate(13.4,206.8) rotate(-90)">tension (mN/mm)</text>
<text x="76.9" y="156.9" font-size="10.6" text-anchor="start" fill="#1c1c1c" stroke="#1c1c1c" stroke-width="0.25" font-style="italic">Mypt1<tspan font-size="8" dy="-4.4" dx="0.3">+/ΔSM</tspan></text>
<polyline points="41.2,241.5 42.36,241.5 43.52,241.5 44.68,241.5 45.84,241.5 47,241.5 47.8,225 48.5,212 50,199.45 51,198.35 52,198.31 53.5,197.8 55,198.08 56.25,197.61 57.5,198.3 58.75,197.56 60,198.26 61.25,197.56 62.5,198.21 63.75,197.54 65,198.42 66.17,197.72 67.33,198.33 68.5,197.6 69.67,198.17 70.83,197.66 72,198.46 73.5,197.54 75,197.96 76.25,197.35 77.5,198.48 78.75,198.01 80,198.63 81.25,198.29 82.5,199.46 83.75,198.96 85,199.63 86.25,199.55 87.5,200.33 88.75,199.96 90,200.93 91.25,200.19 92.5,200.88 93.75,200.46 95,201.25 96.25,200.63 97.5,201.81 98.75,201.13 100,201.98 101.25,201.79 102.5,203.26 103.75,202.86 105,204.1 106.25,204.32 107.5,205.51 108.75,205.5 110,206.66 111.25,207.08 112.5,208.59 113.75,208.67 115,210.04 116.25,210.71 117.5,212.53 118.75,213.33 120,215.01 121.25,215.75 122.5,217.28 123.75,217.81 125,219.91 126,221.16 127,223.45 128.5,225.91 130,229.24 131.25,229.39 132.5,231.17 133.75,231.47 135,232.86 136.25,233.06 137.5,234.19 138.75,234.23 140,235.61 141.17,235.49 142.33,236.46 143.5,236.3 144.3,215 145,205.5 145.8,238 146.5,208 147.3,206 148,238 148.5,238.6" fill="none" stroke="#e51b28" stroke-width="1.15" stroke-linejoin="round" />
<polyline points="41.2,241.5 42.57,241.5 43.93,241.5 45.3,241.5 46,225 47,210 47.95,205.8 48.9,201.8 49.93,199.83 50.97,198.78 52,196.48 53.5,196.73 55,195.09 56,195.1 57,194.1 58.5,194.82 60,193.81 61.25,194.65 62.5,193.96 63.75,194.35 65,193.8 66.5,193.84 68,192.65 69.2,192.34 70.4,191.32 71.5,195.21 72,196.29 73.5,197.34 75,196.84 76.25,197.58 77.5,197.1 78.75,197.75 80,197.36 81.25,197.71 82.5,197.26 83.75,198.06 85,197.82 86.25,198.84 87.5,198.11 88.75,199.12 90,198.67 91.25,199.53 92.5,198.8 93.75,199.38 95,198.68 96.25,199.61 97.5,198.67 98.75,199.7 100,198.98 101.25,199.36 102.5,198.86 103.75,199.09 105,198.74 106.25,198.99 107.5,198.31 108.75,198.67 110,198.1 111.25,198.92 112.5,198.62 113.75,199.49 115,198.89 116.25,199.01 117.5,198.04 118.75,198.34 120,197.39 121.25,197.44 122.5,196.21 123.75,196.13 125,194.62 126.25,195.62 127.5,195.5 128.75,196.63 130,196.45 131.25,197.44 132.5,197.8 133.75,198.62 135,198.47 136.25,199.92 137.5,200.06 138.75,201.77 140,201.48 141.5,202.59 143,202.45 144,209.8 145,206 146,184.8 146.6,200 147.5,225 148.5,226 150,218 151.5,208 152.3,222 153,234.8 154,235.9 155,237 156,237.7 157,238.4" fill="none" stroke="#1a1a1a" stroke-width="1.05" stroke-linejoin="round" />
<text x="46.4" y="172.9" font-size="11" text-anchor="middle" fill="#22a0e6" stroke="#22a0e6" stroke-width="0.12" >PE</text>
<polygon points="43.2,180.9 45.2,180.9 45.2,183.01 46.55,183.01 44.55,185.3 43.85,185.3 41.85,183.01 43.2,183.01" fill="#22a0e6"/>
<text x="100.8" y="172.9" font-size="11" text-anchor="middle" fill="#e51b28" stroke="#e51b28" stroke-width="0.25" >nM</text>
<line x1="71.1" y1="174.8" x2="128.9" y2="174.8" stroke="#e51b28" stroke-width="1"/>
<text x="147.1" y="173.5" font-size="11" text-anchor="middle" fill="#22a0e6" stroke="#22a0e6" stroke-width="0.12" >Wash</text>
<polygon points="144.4,181.3 146.4,181.3 146.4,183.41 147.75,183.41 145.75,185.7 145.05,185.7 143.05,183.41 144.4,183.41" fill="#22a0e6"/>
<text x="72.8" y="183.2" font-size="8.4" text-anchor="middle" fill="#e51b28" stroke="#e51b28" stroke-width="0.1" >1</text>
<polygon points="71.8,185.4 73.8,185.4 73.8,187.51 75.15,187.51 73.15,189.8 72.45,189.8 70.45,187.51 71.8,187.51" fill="#e51b28"/>
<text x="85.2" y="187.7" font-size="8.4" text-anchor="middle" fill="#e51b28" stroke="#e51b28" stroke-width="0.1" >3</text>
<polygon points="84.2,190.2 86.2,190.2 86.2,192.31 87.55,192.31 85.55,194.6 84.85,194.6 82.85,192.31 84.2,192.31" fill="#e51b28"/>
<text x="101.9" y="190.8" font-size="8.4" text-anchor="middle" fill="#e51b28" stroke="#e51b28" stroke-width="0.1" >10</text>
<polygon points="101.4,191.8 103.4,191.8 103.4,193.91 104.75,193.91 102.75,196.2 102.05,196.2 100.05,193.91 101.4,193.91" fill="#e51b28"/>
<text x="118" y="196.8" font-size="8.4" text-anchor="middle" fill="#e51b28" stroke="#e51b28" stroke-width="0.1" >30</text>
<polygon points="117,202.7 119,202.7 119,204.81 120.35,204.81 118.35,207.1 117.65,207.1 115.65,204.81 117,204.81" fill="#e51b28"/>
<text x="127.7" y="212.3" font-size="8.4" text-anchor="middle" fill="#e51b28" stroke="#e51b28" stroke-width="0.1" >100</text>
<polygon points="127.2,214.1 129.2,214.1 129.2,216.21 130.55,216.21 128.55,218.5 127.85,218.5 125.85,216.21 127.2,216.21" fill="#e51b28"/>
<line x1="56" y1="225.3" x2="65.6" y2="225.3" stroke="#444" stroke-width="1.1"/>
<text x="69.9" y="226.8" font-size="10.5" text-anchor="start" fill="#1c1c1c" stroke="#1c1c1c" stroke-width="0.25" >vehicle</text>
<line x1="56" y1="236.2" x2="65.6" y2="236.2" stroke="#ec3b45" stroke-width="1.1"/>
<text x="69.9" y="239.1" font-size="10.5" text-anchor="start" fill="#1c1c1c" stroke="#1c1c1c" stroke-width="0.25" >SNP</text>
<line x1="201.5" y1="161.8" x2="201.5" y2="252.9" stroke="#3a3a3a" stroke-width="1"/>
<line x1="198.7" y1="250.1" x2="333.5" y2="250.1" stroke="#3a3a3a" stroke-width="1"/>
<line x1="198.7" y1="161.8" x2="201.5" y2="161.8" stroke="#3a3a3a" stroke-width="1"/>
<text x="197.5" y="165.4" font-size="10.5" text-anchor="end" fill="#1c1c1c" stroke="#1c1c1c" stroke-width="0.25" >120</text>
<line x1="198.7" y1="183.9" x2="201.5" y2="183.9" stroke="#3a3a3a" stroke-width="1"/>
<text x="197.5" y="187.5" font-size="10.5" text-anchor="end" fill="#1c1c1c" stroke="#1c1c1c" stroke-width="0.25" >90</text>
<line x1="198.7" y1="206" x2="201.5" y2="206" stroke="#3a3a3a" stroke-width="1"/>
<text x="197.5" y="209.6" font-size="10.5" text-anchor="end" fill="#1c1c1c" stroke="#1c1c1c" stroke-width="0.25" >60</text>
<line x1="198.7" y1="228.1" x2="201.5" y2="228.1" stroke="#3a3a3a" stroke-width="1"/>
<text x="197.5" y="231.7" font-size="10.5" text-anchor="end" fill="#1c1c1c" stroke="#1c1c1c" stroke-width="0.25" >30</text>
<line x1="198.7" y1="250.1" x2="201.5" y2="250.1" stroke="#3a3a3a" stroke-width="1"/>
<text x="197.5" y="253.7" font-size="10.5" text-anchor="end" fill="#1c1c1c" stroke="#1c1c1c" stroke-width="0.25" >0</text>
<line x1="212.5" y1="250.1" x2="212.5" y2="252.9" stroke="#3a3a3a" stroke-width="1"/>
<text x="211.4" y="262.4" font-size="10.5" text-anchor="middle" fill="#1c1c1c" stroke="#1c1c1c" stroke-width="0.25" >Basal</text>
<line x1="234.4" y1="250.1" x2="234.4" y2="252.9" stroke="#3a3a3a" stroke-width="1"/>
<text x="234.4" y="262.4" font-size="10.5" text-anchor="middle" fill="#1c1c1c" stroke="#1c1c1c" stroke-width="0.25" >-9</text>
<line x1="256.6" y1="250.1" x2="256.6" y2="252.9" stroke="#3a3a3a" stroke-width="1"/>
<line x1="278.7" y1="250.1" x2="278.7" y2="252.9" stroke="#3a3a3a" stroke-width="1"/>
<text x="278.7" y="262.4" font-size="10.5" text-anchor="middle" fill="#1c1c1c" stroke="#1c1c1c" stroke-width="0.25" >-8</text>
<line x1="300.8" y1="250.1" x2="300.8" y2="252.9" stroke="#3a3a3a" stroke-width="1"/>
<line x1="322.8" y1="250.1" x2="322.8" y2="252.9" stroke="#3a3a3a" stroke-width="1"/>
<text x="322.8" y="262.4" font-size="10.5" text-anchor="middle" fill="#1c1c1c" stroke="#1c1c1c" stroke-width="0.25" >-7</text>
<text x="269.6" y="273.5" font-size="10.65" text-anchor="middle" fill="#1c1c1c" stroke="#1c1c1c" stroke-width="0.25" >concentration (Log M)</text>
<text x="0" y="0" font-size="10.7" text-anchor="middle" fill="#1c1c1c" stroke="#1c1c1c" stroke-width="0.25" transform="translate(184.4,205) rotate(-90)">tension %</text>
<polyline points="212.5,176.7 234.8,176.4 256.9,176.4 279,175.5 300.9,174 322.8,174.6" fill="none" stroke="#1e1e1e" stroke-width="0.85" stroke-linejoin="round" />
<polyline points="212.5,176.7 234.8,176.6 256.9,176.6 279,189 300.9,206.2 322.8,241.2" fill="none" stroke="#ea3a42" stroke-width="0.85" stroke-linejoin="round" />
<circle cx="212.5" cy="176.7" r="2.55" fill="none" stroke="#ea3a42" stroke-width="1.0"/>
<circle cx="234.8" cy="176.6" r="2.55" fill="none" stroke="#ea3a42" stroke-width="1.0"/>
<circle cx="256.9" cy="176.6" r="2.55" fill="none" stroke="#ea3a42" stroke-width="1.0"/>
<line x1="279" y1="182.5" x2="279" y2="186.45" stroke="#ea3a42" stroke-width="0.9"/>
<line x1="279" y1="191.55" x2="279" y2="195.4" stroke="#ea3a42" stroke-width="0.9"/>
<line x1="276.1" y1="182.5" x2="281.9" y2="182.5" stroke="#ea3a42" stroke-width="0.9"/>
<line x1="276.1" y1="195.4" x2="281.9" y2="195.4" stroke="#ea3a42" stroke-width="0.9"/>
<circle cx="279" cy="189" r="2.55" fill="none" stroke="#ea3a42" stroke-width="1.0"/>
<line x1="300.9" y1="196.9" x2="300.9" y2="203.65" stroke="#ea3a42" stroke-width="0.9"/>
<line x1="300.9" y1="208.75" x2="300.9" y2="215.8" stroke="#ea3a42" stroke-width="0.9"/>
<line x1="298" y1="196.9" x2="303.8" y2="196.9" stroke="#ea3a42" stroke-width="0.9"/>
<line x1="298" y1="215.8" x2="303.8" y2="215.8" stroke="#ea3a42" stroke-width="0.9"/>
<circle cx="300.9" cy="206.2" r="2.55" fill="none" stroke="#ea3a42" stroke-width="1.0"/>
<circle cx="322.8" cy="241.2" r="2.55" fill="none" stroke="#ea3a42" stroke-width="1.0"/>
<circle cx="234.8" cy="176.4" r="2.55" fill="none" stroke="#1e1e1e" stroke-width="1.0"/>
<circle cx="256.9" cy="176.4" r="2.55" fill="none" stroke="#1e1e1e" stroke-width="1.0"/>
<line x1="276.1" y1="173.5" x2="281.9" y2="173.5" stroke="#1e1e1e" stroke-width="0.9"/>
<line x1="276.1" y1="177.6" x2="281.9" y2="177.6" stroke="#1e1e1e" stroke-width="0.9"/>
<circle cx="279" cy="175.5" r="2.55" fill="none" stroke="#1e1e1e" stroke-width="1.0"/>
<line x1="298" y1="172" x2="303.8" y2="172" stroke="#1e1e1e" stroke-width="0.9"/>
<line x1="298" y1="176" x2="303.8" y2="176" stroke="#1e1e1e" stroke-width="0.9"/>
<circle cx="300.9" cy="174" r="2.55" fill="none" stroke="#1e1e1e" stroke-width="1.0"/>
<line x1="322.8" y1="171.2" x2="322.8" y2="172.05" stroke="#1e1e1e" stroke-width="0.9"/>
<line x1="322.8" y1="177.15" x2="322.8" y2="178.3" stroke="#1e1e1e" stroke-width="0.9"/>
<line x1="319.9" y1="171.2" x2="325.7" y2="171.2" stroke="#1e1e1e" stroke-width="0.9"/>
<line x1="319.9" y1="178.3" x2="325.7" y2="178.3" stroke="#1e1e1e" stroke-width="0.9"/>
<circle cx="322.8" cy="174.6" r="2.55" fill="none" stroke="#1e1e1e" stroke-width="1.0"/>
<text x="301.4" y="229.4" font-size="10" text-anchor="middle" fill="#1c1c1c" stroke="#1c1c1c" stroke-width="0.25" >**</text>
<text x="322.8" y="234.8" font-size="10" text-anchor="middle" fill="#1c1c1c" stroke="#1c1c1c" stroke-width="0.25" >***</text>
<text x="279.1" y="204.6" font-size="8" text-anchor="middle" fill="#1c1c1c" stroke="#1c1c1c" stroke-width="0.25" >p=0.08</text>
<line x1="233.9" y1="224" x2="243.5" y2="224" stroke="#1e1e1e" stroke-width="0.9"/>
<circle cx="238.7" cy="224" r="2.6" fill="none" stroke="#1e1e1e" stroke-width="1.0"/>
<line x1="233.9" y1="236.4" x2="243.5" y2="236.4" stroke="#ea3a42" stroke-width="0.9"/>
<circle cx="238.7" cy="236.4" r="2.6" fill="none" stroke="#ea3a42" stroke-width="1.0"/>
<text x="246.2" y="227.6" font-size="10.5" text-anchor="start" fill="#1c1c1c" stroke="#1c1c1c" stroke-width="0.25" >vehicle</text>
<text x="246.2" y="240" font-size="10.5" text-anchor="start" fill="#1c1c1c" stroke="#1c1c1c" stroke-width="0.25" >SNP</text>
<line x1="372.3" y1="161.9" x2="504.7" y2="161.9" stroke="#3a3a3a" stroke-width="1"/>
<line x1="504.2" y1="161.9" x2="504.2" y2="250.2" stroke="#555" stroke-width="1"/>
<line x1="372.3" y1="161.4" x2="372.3" y2="235.1" stroke="#3a3a3a" stroke-width="1"/>
<line x1="369.9" y1="235.1" x2="374.7" y2="235.1" stroke="#3a3a3a" stroke-width="1"/>
<line x1="372.3" y1="241.7" x2="372.3" y2="253" stroke="#3a3a3a" stroke-width="1"/>
<line x1="369.9" y1="241.7" x2="374.7" y2="241.7" stroke="#3a3a3a" stroke-width="1"/>
<line x1="369.5" y1="250.2" x2="504.7" y2="250.2" stroke="#3a3a3a" stroke-width="1"/>
<line x1="369.5" y1="161.9" x2="372.3" y2="161.9" stroke="#3a3a3a" stroke-width="1"/>
<text x="368.3" y="165.5" font-size="10.5" text-anchor="end" fill="#1c1c1c" stroke="#1c1c1c" stroke-width="0.25" >0.6</text>
<line x1="369.5" y1="186.3" x2="372.3" y2="186.3" stroke="#3a3a3a" stroke-width="1"/>
<text x="368.3" y="189.9" font-size="10.5" text-anchor="end" fill="#1c1c1c" stroke="#1c1c1c" stroke-width="0.25" >0.5</text>
<line x1="369.5" y1="210.7" x2="372.3" y2="210.7" stroke="#3a3a3a" stroke-width="1"/>
<text x="368.3" y="214.3" font-size="10.5" text-anchor="end" fill="#1c1c1c" stroke="#1c1c1c" stroke-width="0.25" >0.4</text>
<line x1="369.5" y1="235.1" x2="372.3" y2="235.1" stroke="#3a3a3a" stroke-width="1"/>
<text x="368.3" y="236.6" font-size="10.5" text-anchor="end" fill="#1c1c1c" stroke="#1c1c1c" stroke-width="0.25" >0.3</text>
<line x1="369.5" y1="241.7" x2="372.3" y2="241.7" stroke="#3a3a3a" stroke-width="1"/>
<text x="368.3" y="245.1" font-size="10.5" text-anchor="end" fill="#1c1c1c" stroke="#1c1c1c" stroke-width="0.25" >0.3</text>
<line x1="369.5" y1="250.2" x2="372.3" y2="250.2" stroke="#3a3a3a" stroke-width="1"/>
<text x="368.3" y="253.8" font-size="10.5" text-anchor="end" fill="#1c1c1c" stroke="#1c1c1c" stroke-width="0.25" >0</text>
<line x1="372.3" y1="250.2" x2="372.3" y2="253" stroke="#3a3a3a" stroke-width="1"/>
<text x="372.3" y="262" font-size="10.5" text-anchor="middle" fill="#1c1c1c" stroke="#1c1c1c" stroke-width="0.25" >0</text>
<line x1="416.27" y1="250.2" x2="416.27" y2="253" stroke="#3a3a3a" stroke-width="1"/>
<text x="416.27" y="262" font-size="10.5" text-anchor="middle" fill="#1c1c1c" stroke="#1c1c1c" stroke-width="0.25" >500</text>
<line x1="460.23" y1="250.2" x2="460.23" y2="253" stroke="#3a3a3a" stroke-width="1"/>
<text x="460.23" y="262" font-size="10.5" text-anchor="middle" fill="#1c1c1c" stroke="#1c1c1c" stroke-width="0.25" >1000</text>
<line x1="504.2" y1="250.2" x2="504.2" y2="253" stroke="#3a3a3a" stroke-width="1"/>
<text x="504.2" y="262" font-size="10.5" text-anchor="middle" fill="#1c1c1c" stroke="#1c1c1c" stroke-width="0.25" >1500</text>
<text x="437.4" y="273.9" font-size="10.65" text-anchor="middle" fill="#1c1c1c" stroke="#1c1c1c" stroke-width="0.25" >time (s)</text>
<text x="0" y="0" font-size="11.0" text-anchor="middle" fill="#1c1c1c" stroke="#1c1c1c" stroke-width="0.25" transform="translate(353.4,204.7) rotate(-90)">tension (mN/mg)</text>
<text x="421.2" y="157.4" font-size="10.6" text-anchor="start" fill="#1c1c1c" stroke="#1c1c1c" stroke-width="0.25" font-style="italic">Mypt1<tspan font-size="8" dy="-4.4" dx="1.5">+/ΔSM</tspan></text>
<polyline points="379.5,226.28 380.75,225.39 382,228.06 383,224.8 384,224.31 385,216.75 386,211.9 387,209.09 388,209.57 389.33,206.91 390.67,207.48 392,205 393.33,204.97 394.67,202.07 396,202.32 397.33,200.54 398.67,200.3 400,198.57 401.5,198.85 403,195.92 404.5,198.26 406,197.65 407.33,199.18 408.67,197.94 410,200.29 411.33,197.49 412.67,197.53 414,194.3 415.33,196.21 416.67,194.87 418,197 419,195.12 420,197.28 421.33,196.13 422.67,198.45 424,198.81 425.33,201.07 426.67,199.58 428,201.44 429,200.61 430,203.8 431.5,203.77 433,208.06 434.5,207.15 436,209.23 437.5,208.05 439,210.37 440.5,206.43 442,205.43 443.5,203.42 445,204.85 446.5,203.96 448,208.01 449.33,207.39 450.67,210.05 452,210.61 453.5,213.09 455,212.68 456.5,212.04 458,208.72 459.33,211.15 460.67,209.62 462,211.47 463.33,210.5 464.67,211.22 466,210.38 467.5,210.68 469,208.59 470.5,208.81 472,205.8 473,208.57 474,207.18 475.5,211.23 477,213.09 478,212.75 479,208.63 480,212.75 481,213.48 482,213.87 483,211.77 484,210.17 485,205.48 486,209.46 487,211.27 488,214.34 489,215 490,218.59 491,220" fill="none" stroke="#e51b28" stroke-width="1.1" stroke-linejoin="round" />
<polyline points="379.5,226.4 380.75,224.91 382,225.78 383,225.1 384,226.85 385,221.9 386,219.38 387,216.39 388,215.55 389,213.67 390,213.79 391,212.18 392,212.22 393,208.86 394,208.96 395,206.82 396,206.96 397.33,203 398.67,203.56 400,200.32 401.5,200.92 403,197.83 404.5,198.88 406,196.65 407.33,198.21 408.67,198.12 410,199.68 411.33,198.22 412.67,200.13 414,199.1 415,200.47 416,198.35 417,202.31 418,203.62 419,205.13 420,205.34 421,207.27 422,205.98 423,205.38 424,201.99 425.5,203.2 427,201.43 428.5,203.66 430,201.96 431.5,203.95 433,203.01 434.5,203.78 436,200.75 437.33,202.74 438.67,200.78 440,202.38 441.25,201.35 442.5,203.11 443.75,201.99 445,204.19 446.5,201.56 448,201.16 449.33,199.93 450.67,202.09 452,200.11 453.5,202.2 455,200.32 456.5,203.39 458,202.88 459.5,203.8 461,201.25 462.5,203.11 464,200.47 465.5,201.57 467,198.8 468.5,201.88 470,202.36 471.33,204.95 472.67,203.14 474,206.29 475.5,202.45 477,200.9 478.5,188 480,197 481,207 482.2,157 482.8,209 483.8,208 485,200 486.1,157 486.8,215.7 487.6,228 488.2,237 488.4,227 489.5,225.5 491,226.5" fill="none" stroke="#1a1a1a" stroke-width="1.1" stroke-linejoin="round" />
<text x="383.1" y="171.8" font-size="11" text-anchor="middle" fill="#22a0e6" stroke="#22a0e6" stroke-width="0.12" >PE</text>
<polygon points="380.8,176.3 382.8,176.3 382.8,178.41 384.15,178.41 382.15,180.7 381.45,180.7 379.45,178.41 380.8,178.41" fill="#22a0e6"/>
<text x="444.5" y="172" font-size="11" text-anchor="middle" fill="#e51b28" stroke="#e51b28" stroke-width="0.25" >μM</text>
<line x1="408.1" y1="175.2" x2="474.8" y2="175.2" stroke="#e51b28" stroke-width="1"/>
<text x="480.9" y="171.7" font-size="11" text-anchor="middle" fill="#22a0e6" stroke="#22a0e6" stroke-width="0.12" >Wash</text>
<polygon points="476.7,176.2 478.7,176.2 478.7,178.31 480.05,178.31 478.05,180.6 477.35,180.6 475.35,178.31 476.7,178.31" fill="#22a0e6"/>
<text x="408.9" y="182.3" font-size="8.0" text-anchor="middle" fill="#e51b28" stroke="#e51b28" stroke-width="0.1" >0.1</text>
<polygon points="409,187.1 411,187.1 411,189.21 412.35,189.21 410.35,191.5 409.65,191.5 407.65,189.21 409,189.21" fill="#e51b28"/>
<text x="416.7" y="189" font-size="8.0" text-anchor="middle" fill="#e51b28" stroke="#e51b28" stroke-width="0.1" >0.3</text>
<polygon points="416.7,191.5 418.7,191.5 418.7,193.61 420.05,193.61 418.05,195.9 417.35,195.9 415.35,193.61 416.7,193.61" fill="#e51b28"/>
<text x="426.6" y="188.3" font-size="8.0" text-anchor="middle" fill="#e51b28" stroke="#e51b28" stroke-width="0.1" >1</text>
<polygon points="425.7,190.9 427.7,190.9 427.7,193.01 429.05,193.01 427.05,195.3 426.35,195.3 424.35,193.01 425.7,193.01" fill="#e51b28"/>
<text x="435.4" y="195" font-size="8.0" text-anchor="middle" fill="#e51b28" stroke="#e51b28" stroke-width="0.1" >3</text>
<polygon points="434.4,197.6 436.4,197.6 436.4,199.71 437.75,199.71 435.75,202 435.05,202 433.05,199.71 434.4,199.71" fill="#e51b28"/>
<text x="448.1" y="194.2" font-size="8.0" text-anchor="middle" fill="#e51b28" stroke="#e51b28" stroke-width="0.1" >10</text>
<polygon points="447.4,195.9 449.4,195.9 449.4,198.01 450.75,198.01 448.75,200.3 448.05,200.3 446.05,198.01 447.4,198.01" fill="#e51b28"/>
<text x="459.3" y="195.9" font-size="8.0" text-anchor="middle" fill="#e51b28" stroke="#e51b28" stroke-width="0.1" >30</text>
<polygon points="458.6,198.1 460.6,198.1 460.6,200.21 461.95,200.21 459.95,202.5 459.25,202.5 457.25,200.21 458.6,200.21" fill="#e51b28"/>
<text x="470.1" y="198.1" font-size="8.0" text-anchor="middle" fill="#e51b28" stroke="#e51b28" stroke-width="0.1" >100</text>
<polygon points="468.8,203.6 470.8,203.6 470.8,205.71 472.15,205.71 470.15,208 469.45,208 467.45,205.71 468.8,205.71" fill="#e51b28"/>
<line x1="401.1" y1="225" x2="410.9" y2="225" stroke="#444" stroke-width="1.1"/>
<text x="415.1" y="226.7" font-size="10.5" text-anchor="start" fill="#1c1c1c" stroke="#1c1c1c" stroke-width="0.25" >vehicle</text>
<line x1="401.1" y1="236" x2="410.9" y2="236" stroke="#ec3b45" stroke-width="1.1"/>
<text x="415.1" y="239.2" font-size="10.5" text-anchor="start" fill="#1c1c1c" stroke="#1c1c1c" stroke-width="0.25" >SNP</text>
<line x1="552" y1="161.9" x2="552" y2="252.8" stroke="#3a3a3a" stroke-width="1"/>
<line x1="549.2" y1="250" x2="685" y2="250" stroke="#3a3a3a" stroke-width="1"/>
<line x1="549.2" y1="161.9" x2="552" y2="161.9" stroke="#3a3a3a" stroke-width="1"/>
<text x="548" y="165.5" font-size="10.5" text-anchor="end" fill="#1c1c1c" stroke="#1c1c1c" stroke-width="0.25" >150</text>
<line x1="549.2" y1="179.5" x2="552" y2="179.5" stroke="#3a3a3a" stroke-width="1"/>
<text x="548" y="183.1" font-size="10.5" text-anchor="end" fill="#1c1c1c" stroke="#1c1c1c" stroke-width="0.25" >120</text>
<line x1="549.2" y1="197.2" x2="552" y2="197.2" stroke="#3a3a3a" stroke-width="1"/>
<text x="548" y="200.8" font-size="10.5" text-anchor="end" fill="#1c1c1c" stroke="#1c1c1c" stroke-width="0.25" >90</text>
<line x1="549.2" y1="214.8" x2="552" y2="214.8" stroke="#3a3a3a" stroke-width="1"/>
<text x="548" y="218.4" font-size="10.5" text-anchor="end" fill="#1c1c1c" stroke="#1c1c1c" stroke-width="0.25" >60</text>
<line x1="549.2" y1="232.5" x2="552" y2="232.5" stroke="#3a3a3a" stroke-width="1"/>
<text x="548" y="236.1" font-size="10.5" text-anchor="end" fill="#1c1c1c" stroke="#1c1c1c" stroke-width="0.25" >30</text>
<line x1="549.2" y1="250.1" x2="552" y2="250.1" stroke="#3a3a3a" stroke-width="1"/>
<text x="548" y="253.7" font-size="10.5" text-anchor="end" fill="#1c1c1c" stroke="#1c1c1c" stroke-width="0.25" >0</text>
<line x1="560.4" y1="250" x2="560.4" y2="252.8" stroke="#3a3a3a" stroke-width="1"/>
<text x="554.1" y="262.8" font-size="10.5" text-anchor="middle" fill="#1c1c1c" stroke="#1c1c1c" stroke-width="0.25" >Basal</text>
<line x1="577" y1="250" x2="577" y2="252.8" stroke="#3a3a3a" stroke-width="1"/>
<text x="576.2" y="262.8" font-size="10.5" text-anchor="middle" fill="#1c1c1c" stroke="#1c1c1c" stroke-width="0.25" >-7</text>
<line x1="593.5" y1="250" x2="593.5" y2="252.8" stroke="#3a3a3a" stroke-width="1"/>
<line x1="610" y1="250" x2="610" y2="252.8" stroke="#3a3a3a" stroke-width="1"/>
<text x="609.2" y="262.8" font-size="10.5" text-anchor="middle" fill="#1c1c1c" stroke="#1c1c1c" stroke-width="0.25" >-6</text>
<line x1="626.6" y1="250" x2="626.6" y2="252.8" stroke="#3a3a3a" stroke-width="1"/>
<line x1="643" y1="250" x2="643" y2="252.8" stroke="#3a3a3a" stroke-width="1"/>
<text x="642.2" y="262.8" font-size="10.5" text-anchor="middle" fill="#1c1c1c" stroke="#1c1c1c" stroke-width="0.25" >-5</text>
<line x1="659.6" y1="250" x2="659.6" y2="252.8" stroke="#3a3a3a" stroke-width="1"/>
<line x1="676.3" y1="250" x2="676.3" y2="252.8" stroke="#3a3a3a" stroke-width="1"/>
<text x="675.6" y="262.8" font-size="10.5" text-anchor="middle" fill="#1c1c1c" stroke="#1c1c1c" stroke-width="0.25" >-4</text>
<text x="612.2" y="273.3" font-size="10.65" text-anchor="middle" fill="#1c1c1c" stroke="#1c1c1c" stroke-width="0.25" >concentration (Log M)</text>
<text x="0" y="0" font-size="10.7" text-anchor="middle" fill="#1c1c1c" stroke="#1c1c1c" stroke-width="0.25" transform="translate(532.3,203.6) rotate(-90)">tension %</text>
<polyline points="560.1,191.8 576.8,187.7 593.5,190.6 609.8,184.6 626.5,190.1 642.7,189.4 659.4,194.7 675.9,194.7" fill="none" stroke="#1e1e1e" stroke-width="0.85" stroke-linejoin="round" />
<polyline points="560.1,191.8 576.8,191.1 593.5,199 609.8,213.3 626.5,220.4 642.7,220.9 659.4,225.9 675.9,225.2" fill="none" stroke="#ea3a42" stroke-width="0.85" stroke-linejoin="round" />
<circle cx="560.1" cy="191.8" r="2.55" fill="none" stroke="#ea3a42" stroke-width="1.0"/>
<line x1="576.8" y1="188.2" x2="576.8" y2="188.55" stroke="#ea3a42" stroke-width="0.9"/>
<line x1="576.8" y1="193.65" x2="576.8" y2="194.2" stroke="#ea3a42" stroke-width="0.9"/>
<line x1="573.9" y1="188.2" x2="579.7" y2="188.2" stroke="#ea3a42" stroke-width="0.9"/>
<line x1="573.9" y1="194.2" x2="579.7" y2="194.2" stroke="#ea3a42" stroke-width="0.9"/>
<circle cx="576.8" cy="191.1" r="2.55" fill="none" stroke="#ea3a42" stroke-width="1.0"/>
<line x1="593.5" y1="195.4" x2="593.5" y2="196.45" stroke="#ea3a42" stroke-width="0.9"/>
<line x1="593.5" y1="201.55" x2="593.5" y2="202.5" stroke="#ea3a42" stroke-width="0.9"/>
<line x1="590.6" y1="195.4" x2="596.4" y2="195.4" stroke="#ea3a42" stroke-width="0.9"/>
<line x1="590.6" y1="202.5" x2="596.4" y2="202.5" stroke="#ea3a42" stroke-width="0.9"/>
<circle cx="593.5" cy="199" r="2.55" fill="none" stroke="#ea3a42" stroke-width="1.0"/>
<circle cx="609.8" cy="213.3" r="2.55" fill="none" stroke="#ea3a42" stroke-width="1.0"/>
<line x1="623.6" y1="218" x2="629.4" y2="218" stroke="#ea3a42" stroke-width="0.9"/>
<line x1="623.6" y1="222.8" x2="629.4" y2="222.8" stroke="#ea3a42" stroke-width="0.9"/>
<circle cx="626.5" cy="220.4" r="2.55" fill="none" stroke="#ea3a42" stroke-width="1.0"/>
<line x1="642.7" y1="218" x2="642.7" y2="218.35" stroke="#ea3a42" stroke-width="0.9"/>
<line x1="642.7" y1="223.45" x2="642.7" y2="224" stroke="#ea3a42" stroke-width="0.9"/>
<line x1="639.8" y1="218" x2="645.6" y2="218" stroke="#ea3a42" stroke-width="0.9"/>
<line x1="639.8" y1="224" x2="645.6" y2="224" stroke="#ea3a42" stroke-width="0.9"/>
<circle cx="642.7" cy="220.9" r="2.55" fill="none" stroke="#ea3a42" stroke-width="1.0"/>
<circle cx="659.4" cy="225.9" r="2.55" fill="none" stroke="#ea3a42" stroke-width="1.0"/>
<line x1="675.9" y1="221.2" x2="675.9" y2="222.65" stroke="#ea3a42" stroke-width="0.9"/>
<line x1="675.9" y1="227.75" x2="675.9" y2="228.8" stroke="#ea3a42" stroke-width="0.9"/>
<line x1="673" y1="221.2" x2="678.8" y2="221.2" stroke="#ea3a42" stroke-width="0.9"/>
<line x1="673" y1="228.8" x2="678.8" y2="228.8" stroke="#ea3a42" stroke-width="0.9"/>
<circle cx="675.9" cy="225.2" r="2.55" fill="none" stroke="#ea3a42" stroke-width="1.0"/>
<line x1="576.8" y1="184.6" x2="576.8" y2="185.15" stroke="#1e1e1e" stroke-width="0.9"/>
<line x1="576.8" y1="190.25" x2="576.8" y2="190.6" stroke="#1e1e1e" stroke-width="0.9"/>
<line x1="573.9" y1="184.6" x2="579.7" y2="184.6" stroke="#1e1e1e" stroke-width="0.9"/>
<line x1="573.9" y1="190.6" x2="579.7" y2="190.6" stroke="#1e1e1e" stroke-width="0.9"/>
<circle cx="576.8" cy="187.7" r="2.55" fill="none" stroke="#1e1e1e" stroke-width="1.0"/>
<line x1="593.5" y1="187" x2="593.5" y2="188.05" stroke="#1e1e1e" stroke-width="0.9"/>
<line x1="593.5" y1="193.15" x2="593.5" y2="194.2" stroke="#1e1e1e" stroke-width="0.9"/>
<line x1="590.6" y1="187" x2="596.4" y2="187" stroke="#1e1e1e" stroke-width="0.9"/>
<line x1="590.6" y1="194.2" x2="596.4" y2="194.2" stroke="#1e1e1e" stroke-width="0.9"/>
<circle cx="593.5" cy="190.6" r="2.55" fill="none" stroke="#1e1e1e" stroke-width="1.0"/>
<line x1="609.8" y1="181.8" x2="609.8" y2="182.05" stroke="#1e1e1e" stroke-width="0.9"/>
<line x1="609.8" y1="187.15" x2="609.8" y2="187.7" stroke="#1e1e1e" stroke-width="0.9"/>
<line x1="606.9" y1="181.8" x2="612.7" y2="181.8" stroke="#1e1e1e" stroke-width="0.9"/>
<line x1="606.9" y1="187.7" x2="612.7" y2="187.7" stroke="#1e1e1e" stroke-width="0.9"/>
<circle cx="609.8" cy="184.6" r="2.55" fill="none" stroke="#1e1e1e" stroke-width="1.0"/>
<line x1="626.5" y1="185.3" x2="626.5" y2="187.55" stroke="#1e1e1e" stroke-width="0.9"/>
<line x1="626.5" y1="192.65" x2="626.5" y2="194.9" stroke="#1e1e1e" stroke-width="0.9"/>
<line x1="623.6" y1="185.3" x2="629.4" y2="185.3" stroke="#1e1e1e" stroke-width="0.9"/>
<line x1="623.6" y1="194.9" x2="629.4" y2="194.9" stroke="#1e1e1e" stroke-width="0.9"/>
<circle cx="626.5" cy="190.1" r="2.55" fill="none" stroke="#1e1e1e" stroke-width="1.0"/>
<line x1="642.7" y1="185.3" x2="642.7" y2="186.85" stroke="#1e1e1e" stroke-width="0.9"/>
<line x1="642.7" y1="191.95" x2="642.7" y2="193.5" stroke="#1e1e1e" stroke-width="0.9"/>
<line x1="639.8" y1="185.3" x2="645.6" y2="185.3" stroke="#1e1e1e" stroke-width="0.9"/>
<line x1="639.8" y1="193.5" x2="645.6" y2="193.5" stroke="#1e1e1e" stroke-width="0.9"/>
<circle cx="642.7" cy="189.4" r="2.55" fill="none" stroke="#1e1e1e" stroke-width="1.0"/>
<line x1="659.4" y1="197.25" x2="659.4" y2="197.3" stroke="#1e1e1e" stroke-width="0.9"/>
<line x1="656.5" y1="192.5" x2="662.3" y2="192.5" stroke="#1e1e1e" stroke-width="0.9"/>
<line x1="656.5" y1="197.3" x2="662.3" y2="197.3" stroke="#1e1e1e" stroke-width="0.9"/>
<circle cx="659.4" cy="194.7" r="2.55" fill="none" stroke="#1e1e1e" stroke-width="1.0"/>
<line x1="675.9" y1="191.8" x2="675.9" y2="192.15" stroke="#1e1e1e" stroke-width="0.9"/>
<line x1="675.9" y1="197.25" x2="675.9" y2="197.8" stroke="#1e1e1e" stroke-width="0.9"/>
<line x1="673" y1="191.8" x2="678.8" y2="191.8" stroke="#1e1e1e" stroke-width="0.9"/>
<line x1="673" y1="197.8" x2="678.8" y2="197.8" stroke="#1e1e1e" stroke-width="0.9"/>
<circle cx="675.9" cy="194.7" r="2.55" fill="none" stroke="#1e1e1e" stroke-width="1.0"/>
<text x="609.8" y="177.6" font-size="10" text-anchor="middle" fill="#1c1c1c" stroke="#1c1c1c" stroke-width="0.25" >**</text>
<text x="627.2" y="181.9" font-size="10" text-anchor="middle" fill="#1c1c1c" stroke="#1c1c1c" stroke-width="0.25" >***</text>
<text x="643.7" y="184.8" font-size="10" text-anchor="middle" fill="#1c1c1c" stroke="#1c1c1c" stroke-width="0.25" >***</text>
<text x="660.4" y="187.9" font-size="10" text-anchor="middle" fill="#1c1c1c" stroke="#1c1c1c" stroke-width="0.25" >***</text>
<text x="676.6" y="189.5" font-size="10" text-anchor="middle" fill="#1c1c1c" stroke="#1c1c1c" stroke-width="0.25" >***</text>
<line x1="571.5" y1="224" x2="581.1" y2="224" stroke="#1e1e1e" stroke-width="0.9"/>
<circle cx="576.3" cy="224" r="2.6" fill="none" stroke="#1e1e1e" stroke-width="1.0"/>
<line x1="571.5" y1="236.4" x2="581.1" y2="236.4" stroke="#ea3a42" stroke-width="0.9"/>
<circle cx="576.3" cy="236.4" r="2.6" fill="none" stroke="#ea3a42" stroke-width="1.0"/>
<text x="584.7" y="227.6" font-size="10.5" text-anchor="start" fill="#1c1c1c" stroke="#1c1c1c" stroke-width="0.25" >vehicle</text>
<text x="584.7" y="240" font-size="10.5" text-anchor="start" fill="#1c1c1c" stroke="#1c1c1c" stroke-width="0.25" >SNP</text>
<line x1="28.8" y1="304.5" x2="162" y2="304.5" stroke="#3a3a3a" stroke-width="1"/>
<line x1="161.5" y1="304.5" x2="161.5" y2="392.6" stroke="#777" stroke-width="1"/>
<line x1="28.8" y1="304" x2="28.8" y2="395.4" stroke="#3a3a3a" stroke-width="1"/>
<line x1="26" y1="392.6" x2="162" y2="392.6" stroke="#3a3a3a" stroke-width="1"/>
<line x1="26" y1="304.5" x2="28.8" y2="304.5" stroke="#3a3a3a" stroke-width="1"/>
<text x="24.8" y="308.1" font-size="10.5" text-anchor="end" fill="#1c1c1c" stroke="#1c1c1c" stroke-width="0.25" >8</text>
<line x1="26" y1="326.5" x2="28.8" y2="326.5" stroke="#3a3a3a" stroke-width="1"/>
<text x="24.8" y="330.1" font-size="10.5" text-anchor="end" fill="#1c1c1c" stroke="#1c1c1c" stroke-width="0.25" >6</text>
<line x1="26" y1="348.6" x2="28.8" y2="348.6" stroke="#3a3a3a" stroke-width="1"/>
<text x="24.8" y="352.2" font-size="10.5" text-anchor="end" fill="#1c1c1c" stroke="#1c1c1c" stroke-width="0.25" >4</text>
<line x1="26" y1="370.6" x2="28.8" y2="370.6" stroke="#3a3a3a" stroke-width="1"/>
<text x="24.8" y="374.2" font-size="10.5" text-anchor="end" fill="#1c1c1c" stroke="#1c1c1c" stroke-width="0.25" >2</text>
<line x1="26" y1="392.6" x2="28.8" y2="392.6" stroke="#3a3a3a" stroke-width="1"/>
<text x="24.8" y="396.2" font-size="10.5" text-anchor="end" fill="#1c1c1c" stroke="#1c1c1c" stroke-width="0.25" >0</text>
<line x1="28.8" y1="392.6" x2="28.8" y2="395.4" stroke="#3a3a3a" stroke-width="1"/>
<text x="28.3" y="404.4" font-size="10.5" text-anchor="middle" fill="#1c1c1c" stroke="#1c1c1c" stroke-width="0.25" >0</text>
<line x1="55.7" y1="392.6" x2="55.7" y2="395.4" stroke="#3a3a3a" stroke-width="1"/>
<text x="55.6" y="404.4" font-size="10.5" text-anchor="middle" fill="#1c1c1c" stroke="#1c1c1c" stroke-width="0.25" >240</text>
<line x1="82" y1="392.6" x2="82" y2="395.4" stroke="#3a3a3a" stroke-width="1"/>
<text x="80.7" y="404.4" font-size="10.5" text-anchor="middle" fill="#1c1c1c" stroke="#1c1c1c" stroke-width="0.25" >480</text>
<line x1="108.2" y1="392.6" x2="108.2" y2="395.4" stroke="#3a3a3a" stroke-width="1"/>
<text x="108.3" y="404.4" font-size="10.5" text-anchor="middle" fill="#1c1c1c" stroke="#1c1c1c" stroke-width="0.25" >720</text>
<line x1="135" y1="392.6" x2="135" y2="395.4" stroke="#3a3a3a" stroke-width="1"/>
<text x="134.7" y="404.4" font-size="10.5" text-anchor="middle" fill="#1c1c1c" stroke="#1c1c1c" stroke-width="0.25" >960</text>
<line x1="161.6" y1="392.6" x2="161.6" y2="395.4" stroke="#3a3a3a" stroke-width="1"/>
<text x="160.2" y="404.4" font-size="10.5" text-anchor="middle" fill="#1c1c1c" stroke="#1c1c1c" stroke-width="0.25" >1200</text>
<text x="97.5" y="416.2" font-size="10.65" text-anchor="middle" fill="#1c1c1c" stroke="#1c1c1c" stroke-width="0.25" >time (min)</text>
<text x="0" y="0" font-size="10.55" text-anchor="middle" fill="#1c1c1c" stroke="#1c1c1c" stroke-width="0.25" transform="translate(13.2,348.2) rotate(-90)">tension (mN/mm)</text>
<text x="76.8" y="299.5" font-size="10.6" text-anchor="start" fill="#1c1c1c" stroke="#1c1c1c" stroke-width="0.25" font-style="italic">Mypt1<tspan font-size="8" dy="-4.4" dx="0.3">ΔSM/ΔSM</tspan></text>
<polyline points="34,380.5 35.3,380.5 36.6,380.5 37.9,380.5 38.6,370 39.3,359 40,355.13 41,353.85 42,353.19 43.5,352.4 45,352.58 46.25,351.64 47.5,352.17 48.75,351.55 50,351.77 51.25,351.23 52.5,351.51 53.75,350.84 55,351.65 56.25,351.12 57.5,351.6 58.75,350.9 60,351.41 61.25,350.92 62.5,351.33 63.75,350.66 65,351.13 66.25,350.48 67.5,350.92 68.75,350.44 70,351.24 71.25,350.49 72.5,351.35 73.75,351.09 75,351.37 76.25,351.06 77.5,351.48 78.75,350.74 80,351.01 81.25,350.39 82.5,350.99 83.75,350.52 85,351.03 86.25,350.58 87.5,350.84 88.75,350.03 90,350.43 91.25,350.07 92.5,350.38 93.75,349.99 95,350.26 96.25,349.62 97.5,350.32 98.75,349.73 100,350.39 101.25,349.93 102.5,350.38 103.75,349.94 105,350.5 106.25,350.44 107.5,351.26 108.75,351.15 110,351.73 111.25,351.47 112.5,352.53 113.75,352.12 115,352.83 116.25,352.49 117.5,352.87 118.75,352.45 120,352.94 121.25,352.86 122.5,353.39 123.75,353.19 125,353.82 126.25,353.42 127.5,354.46 128.75,354.15 130,354.9 131.25,354.67 132.5,355.17 133.75,354.96 135,355.69 136.5,356.06 138,357.1 139.33,357.36 140.67,358.49 142,358.58 143.33,359.93 144.67,359.94 146,361.16 147,361.38 148,362.3" fill="none" stroke="#e51b28" stroke-width="1.15" stroke-linejoin="round" />
<polyline points="34,380.5 35.3,380.5 36.6,380.5 37.9,380.5 38.6,372 39.3,360.8 40,357.11 41,356.16 42,355.61 43.5,354.9 45,355.06 46.25,354.67 47.5,355.17 48.75,354.61 50,354.85 51.25,354.18 52.5,354.37 53.75,353.96 55,354.3 56.25,353.69 57.5,354.11 58.75,353.59 60,353.74 61.25,353.68 62.5,354.18 63.75,353.75 65,354.56 66.25,354.15 67.5,354.84 68.75,354.51 70,355.09 71.25,354.84 72.5,355.29 73.75,354.69 75,355.2 76.25,354.81 77.5,354.95 78.75,354.57 80,354.76 81.25,354.36 82.5,354.93 83.75,354.54 85,355.36 86.25,354.8 87.5,354.94 88.75,354.4 90,354.57 91.25,354.07 92.5,354.42 93.75,353.73 95,353.86 96.25,353.35 97.5,353.56 98.75,352.79 100,353.13 101.25,352.85 102.5,352.91 103.75,352.49 105,352.72 106.25,352.47 107.5,352.7 108.75,352.01 110,352.5 111.25,352.1 112.5,352.58 113.75,352.21 115,352.56 116.25,352.18 117.5,352.57 118.75,351.91 120,352.38 121.25,352.05 122.5,352.57 123.75,352.19 125,352.45 126.25,351.9 127.5,352.7 128.75,352.2 130,352.6 131.25,351.83 132.5,352.27 133.75,351.77 135,352.02 136.25,351.68 137.5,352.06 138.75,351.43 140,351.92 141.17,351.46 142.33,351.68 143.5,351.1 144.67,351.66 145.83,351.14 147,351.3 148,326.6 148.3,351.6 149,353 150.23,356.6 151.47,360.2 152.7,363.8 153.93,367.4 155.17,371 156.4,374.6 156.6,348.9" fill="none" stroke="#1a1a1a" stroke-width="1.05" stroke-linejoin="round" />
<text x="39.7" y="319.6" font-size="11" text-anchor="middle" fill="#22a0e6" stroke="#22a0e6" stroke-width="0.12" >PE</text>
<polygon points="36.4,323.7 38.4,323.7 38.4,325.81 39.75,325.81 37.75,328.1 37.05,328.1 35.05,325.81 36.4,325.81" fill="#22a0e6"/>
<text x="100.8" y="319.6" font-size="11" text-anchor="middle" fill="#e51b28" stroke="#e51b28" stroke-width="0.25" >nM</text>
<line x1="71.1" y1="320.6" x2="136.6" y2="320.6" stroke="#e51b28" stroke-width="1"/>
<text x="148.2" y="320.1" font-size="11" text-anchor="middle" fill="#22a0e6" stroke="#22a0e6" stroke-width="0.12" >Wash</text>
<polygon points="147,323.3 149,323.3 149,325.41 150.35,325.41 148.35,327.7 147.65,327.7 145.65,325.41 147,325.41" fill="#22a0e6"/>
<text x="71.7" y="340.4" font-size="8.4" text-anchor="middle" fill="#e51b28" stroke="#e51b28" stroke-width="0.1" >1</text>
<polygon points="70.7,343.6 72.7,343.6 72.7,345.71 74.05,345.71 72.05,348 71.35,348 69.35,345.71 70.7,345.71" fill="#e51b28"/>
<text x="89.2" y="340.4" font-size="8.4" text-anchor="middle" fill="#e51b28" stroke="#e51b28" stroke-width="0.1" >3</text>
<polygon points="88.2,343.6 90.2,343.6 90.2,345.71 91.55,345.71 89.55,348 88.85,348 86.85,345.71 88.2,345.71" fill="#e51b28"/>
<text x="101.9" y="340.4" font-size="8.4" text-anchor="middle" fill="#e51b28" stroke="#e51b28" stroke-width="0.1" >10</text>
<polygon points="101.4,343.6 103.4,343.6 103.4,345.71 104.75,345.71 102.75,348 102.05,348 100.05,345.71 101.4,345.71" fill="#e51b28"/>
<text x="117.5" y="340.4" font-size="8.4" text-anchor="middle" fill="#e51b28" stroke="#e51b28" stroke-width="0.1" >30</text>
<polygon points="116.5,344.2 118.5,344.2 118.5,346.31 119.85,346.31 117.85,348.6 117.15,348.6 115.15,346.31 116.5,346.31" fill="#e51b28"/>
<text x="136.6" y="341.6" font-size="8.4" text-anchor="middle" fill="#e51b28" stroke="#e51b28" stroke-width="0.1" >100</text>
<polygon points="136,343.8 138,343.8 138,345.91 139.35,345.91 137.35,348.2 136.65,348.2 134.65,345.91 136,345.91" fill="#e51b28"/>
<line x1="55.8" y1="366" x2="65.1" y2="366" stroke="#444" stroke-width="1.1"/>
<text x="70" y="368.6" font-size="10.5" text-anchor="start" fill="#1c1c1c" stroke="#1c1c1c" stroke-width="0.25" >vehicle</text>
<line x1="55.8" y1="378" x2="65.1" y2="378" stroke="#ec3b45" stroke-width="1.1"/>
<text x="70" y="380.6" font-size="10.5" text-anchor="start" fill="#1c1c1c" stroke="#1c1c1c" stroke-width="0.25" >SNP</text>
<line x1="201.5" y1="303.2" x2="201.5" y2="394" stroke="#3a3a3a" stroke-width="1"/>
<line x1="198.7" y1="391.2" x2="334" y2="391.2" stroke="#3a3a3a" stroke-width="1"/>
<line x1="198.7" y1="303.2" x2="201.5" y2="303.2" stroke="#3a3a3a" stroke-width="1"/>
<text x="197.5" y="306.8" font-size="10.5" text-anchor="end" fill="#1c1c1c" stroke="#1c1c1c" stroke-width="0.25" >120</text>
<line x1="198.7" y1="325.2" x2="201.5" y2="325.2" stroke="#3a3a3a" stroke-width="1"/>
<text x="197.5" y="328.8" font-size="10.5" text-anchor="end" fill="#1c1c1c" stroke="#1c1c1c" stroke-width="0.25" >90</text>
<line x1="198.7" y1="347.2" x2="201.5" y2="347.2" stroke="#3a3a3a" stroke-width="1"/>
<text x="197.5" y="350.8" font-size="10.5" text-anchor="end" fill="#1c1c1c" stroke="#1c1c1c" stroke-width="0.25" >60</text>
<line x1="198.7" y1="369.2" x2="201.5" y2="369.2" stroke="#3a3a3a" stroke-width="1"/>
<text x="197.5" y="372.8" font-size="10.5" text-anchor="end" fill="#1c1c1c" stroke="#1c1c1c" stroke-width="0.25" >30</text>
<line x1="198.7" y1="391.2" x2="201.5" y2="391.2" stroke="#3a3a3a" stroke-width="1"/>
<text x="197.5" y="394.8" font-size="10.5" text-anchor="end" fill="#1c1c1c" stroke="#1c1c1c" stroke-width="0.25" >0</text>
<line x1="212.5" y1="391.2" x2="212.5" y2="394" stroke="#3a3a3a" stroke-width="1"/>
<text x="211.4" y="404.3" font-size="10.5" text-anchor="middle" fill="#1c1c1c" stroke="#1c1c1c" stroke-width="0.25" >Basal</text>
<line x1="234.4" y1="391.2" x2="234.4" y2="394" stroke="#3a3a3a" stroke-width="1"/>
<text x="234.4" y="404.3" font-size="10.5" text-anchor="middle" fill="#1c1c1c" stroke="#1c1c1c" stroke-width="0.25" >-9</text>
<line x1="256.6" y1="391.2" x2="256.6" y2="394" stroke="#3a3a3a" stroke-width="1"/>
<line x1="278.7" y1="391.2" x2="278.7" y2="394" stroke="#3a3a3a" stroke-width="1"/>
<text x="278.7" y="404.3" font-size="10.5" text-anchor="middle" fill="#1c1c1c" stroke="#1c1c1c" stroke-width="0.25" >-8</text>
<line x1="300.8" y1="391.2" x2="300.8" y2="394" stroke="#3a3a3a" stroke-width="1"/>
<line x1="322.8" y1="391.2" x2="322.8" y2="394" stroke="#3a3a3a" stroke-width="1"/>
<text x="322.8" y="404.3" font-size="10.5" text-anchor="middle" fill="#1c1c1c" stroke="#1c1c1c" stroke-width="0.25" >-7</text>
<text x="267.8" y="414.9" font-size="10.65" text-anchor="middle" fill="#1c1c1c" stroke="#1c1c1c" stroke-width="0.25" >concentration (Log M)</text>
<text x="0" y="0" font-size="10.7" text-anchor="middle" fill="#1c1c1c" stroke="#1c1c1c" stroke-width="0.25" transform="translate(184.4,346.5) rotate(-90)">tension %</text>
<polyline points="212.5,318.3 234.8,317.4 256.5,315 279,310.3 300.9,308.6 322.8,306.4" fill="none" stroke="#1e1e1e" stroke-width="0.85" stroke-linejoin="round" />
<polyline points="212.5,318.3 234.8,316.3 256.5,315 279,314 300.9,330.5 322.8,360.8" fill="none" stroke="#ea3a42" stroke-width="0.85" stroke-linejoin="round" />
<circle cx="212.5" cy="318.3" r="2.55" fill="none" stroke="#ea3a42" stroke-width="1.0"/>
<circle cx="234.8" cy="316.3" r="2.55" fill="none" stroke="#ea3a42" stroke-width="1.0"/>
<circle cx="256.5" cy="315" r="2.55" fill="none" stroke="#ea3a42" stroke-width="1.0"/>
<circle cx="279" cy="314" r="2.55" fill="none" stroke="#ea3a42" stroke-width="1.0"/>
<line x1="300.9" y1="323.2" x2="300.9" y2="327.95" stroke="#ea3a42" stroke-width="0.9"/>
<line x1="300.9" y1="333.05" x2="300.9" y2="337.6" stroke="#ea3a42" stroke-width="0.9"/>
<line x1="298" y1="323.2" x2="303.8" y2="323.2" stroke="#ea3a42" stroke-width="0.9"/>
<line x1="298" y1="337.6" x2="303.8" y2="337.6" stroke="#ea3a42" stroke-width="0.9"/>
<circle cx="300.9" cy="330.5" r="2.55" fill="none" stroke="#ea3a42" stroke-width="1.0"/>
<line x1="322.8" y1="351.5" x2="322.8" y2="358.25" stroke="#ea3a42" stroke-width="0.9"/>
<line x1="322.8" y1="363.35" x2="322.8" y2="370.2" stroke="#ea3a42" stroke-width="0.9"/>
<line x1="319.9" y1="351.5" x2="325.7" y2="351.5" stroke="#ea3a42" stroke-width="0.9"/>
<line x1="319.9" y1="370.2" x2="325.7" y2="370.2" stroke="#ea3a42" stroke-width="0.9"/>
<circle cx="322.8" cy="360.8" r="2.55" fill="none" stroke="#ea3a42" stroke-width="1.0"/>
<circle cx="234.8" cy="317.4" r="2.55" fill="none" stroke="#1e1e1e" stroke-width="1.0"/>
<circle cx="256.5" cy="315" r="2.55" fill="none" stroke="#1e1e1e" stroke-width="1.0"/>
<circle cx="279" cy="310.3" r="2.55" fill="none" stroke="#1e1e1e" stroke-width="1.0"/>
<circle cx="300.9" cy="308.6" r="2.55" fill="none" stroke="#1e1e1e" stroke-width="1.0"/>
<circle cx="322.8" cy="306.4" r="2.55" fill="none" stroke="#1e1e1e" stroke-width="1.0"/>
<text x="300.9" y="350.1" font-size="10" text-anchor="middle" fill="#1c1c1c" stroke="#1c1c1c" stroke-width="0.25" >*</text>
<text x="324.1" y="349.1" font-size="10" text-anchor="middle" fill="#1c1c1c" stroke="#1c1c1c" stroke-width="0.25" >***</text>
<line x1="233.9" y1="365.5" x2="243.5" y2="365.5" stroke="#1e1e1e" stroke-width="0.9"/>
<circle cx="238.7" cy="365.5" r="2.6" fill="none" stroke="#1e1e1e" stroke-width="1.0"/>
<line x1="233.9" y1="377.7" x2="243.5" y2="377.7" stroke="#ea3a42" stroke-width="0.9"/>
<circle cx="238.7" cy="377.7" r="2.6" fill="none" stroke="#ea3a42" stroke-width="1.0"/>
<text x="246.2" y="369.1" font-size="10.5" text-anchor="start" fill="#1c1c1c" stroke="#1c1c1c" stroke-width="0.25" >vehicle</text>
<text x="246.2" y="381.3" font-size="10.5" text-anchor="start" fill="#1c1c1c" stroke="#1c1c1c" stroke-width="0.25" >SNP</text>
<line x1="372.3" y1="304.4" x2="504.8" y2="304.4" stroke="#3a3a3a" stroke-width="1"/>
<line x1="504.3" y1="304.4" x2="504.3" y2="392.2" stroke="#555" stroke-width="1"/>
<line x1="372.3" y1="303.9" x2="372.3" y2="377" stroke="#3a3a3a" stroke-width="1"/>
<line x1="369.9" y1="377" x2="374.7" y2="377" stroke="#3a3a3a" stroke-width="1"/>
<line x1="372.3" y1="383.8" x2="372.3" y2="395" stroke="#3a3a3a" stroke-width="1"/>
<line x1="369.9" y1="383.8" x2="374.7" y2="383.8" stroke="#3a3a3a" stroke-width="1"/>
<line x1="369.5" y1="392.2" x2="504.8" y2="392.2" stroke="#3a3a3a" stroke-width="1"/>
<line x1="369.5" y1="304.4" x2="372.3" y2="304.4" stroke="#3a3a3a" stroke-width="1"/>
<text x="368.3" y="308" font-size="10.5" text-anchor="end" fill="#1c1c1c" stroke="#1c1c1c" stroke-width="0.25" >0.6</text>
<line x1="369.5" y1="328.8" x2="372.3" y2="328.8" stroke="#3a3a3a" stroke-width="1"/>
<text x="368.3" y="332.4" font-size="10.5" text-anchor="end" fill="#1c1c1c" stroke="#1c1c1c" stroke-width="0.25" >0.5</text>
<line x1="369.5" y1="352.9" x2="372.3" y2="352.9" stroke="#3a3a3a" stroke-width="1"/>
<text x="368.3" y="356.5" font-size="10.5" text-anchor="end" fill="#1c1c1c" stroke="#1c1c1c" stroke-width="0.25" >0.4</text>
<line x1="369.5" y1="377" x2="372.3" y2="377" stroke="#3a3a3a" stroke-width="1"/>
<text x="368.3" y="378.6" font-size="10.5" text-anchor="end" fill="#1c1c1c" stroke="#1c1c1c" stroke-width="0.25" >0.3</text>
<line x1="369.5" y1="383.8" x2="372.3" y2="383.8" stroke="#3a3a3a" stroke-width="1"/>
<text x="368.3" y="387.2" font-size="10.5" text-anchor="end" fill="#1c1c1c" stroke="#1c1c1c" stroke-width="0.25" >0.3</text>
<line x1="369.5" y1="392.2" x2="372.3" y2="392.2" stroke="#3a3a3a" stroke-width="1"/>
<text x="368.3" y="395.8" font-size="10.5" text-anchor="end" fill="#1c1c1c" stroke="#1c1c1c" stroke-width="0.25" >0</text>
<line x1="372.3" y1="392.2" x2="372.3" y2="395" stroke="#3a3a3a" stroke-width="1"/>
<text x="372.3" y="404" font-size="10.5" text-anchor="middle" fill="#1c1c1c" stroke="#1c1c1c" stroke-width="0.25" >0</text>
<line x1="416.3" y1="392.2" x2="416.3" y2="395" stroke="#3a3a3a" stroke-width="1"/>
<text x="416.3" y="404" font-size="10.5" text-anchor="middle" fill="#1c1c1c" stroke="#1c1c1c" stroke-width="0.25" >500</text>
<line x1="460.3" y1="392.2" x2="460.3" y2="395" stroke="#3a3a3a" stroke-width="1"/>
<text x="460.3" y="404" font-size="10.5" text-anchor="middle" fill="#1c1c1c" stroke="#1c1c1c" stroke-width="0.25" >1000</text>
<line x1="504.3" y1="392.2" x2="504.3" y2="395" stroke="#3a3a3a" stroke-width="1"/>
<text x="504.3" y="404" font-size="10.5" text-anchor="middle" fill="#1c1c1c" stroke="#1c1c1c" stroke-width="0.25" >1500</text>
<text x="443.2" y="414.8" font-size="10.65" text-anchor="middle" fill="#1c1c1c" stroke="#1c1c1c" stroke-width="0.25" >time (s)</text>
<text x="0" y="0" font-size="11.0" text-anchor="middle" fill="#1c1c1c" stroke="#1c1c1c" stroke-width="0.25" transform="translate(353.4,344.4) rotate(-90)">tension (mN/mg)</text>
<text x="413.9" y="299.4" font-size="10.6" text-anchor="start" fill="#1c1c1c" stroke="#1c1c1c" stroke-width="0.25" font-style="italic">Mypt1<tspan font-size="8" dy="-4.4" dx="0.3">ΔSM/ΔSM</tspan></text>
<polyline points="382,363.24 383,362.7 384,365.42 385,361.15 386,360 387,353.92 388,350.47 389,346.5 390,345.12 391,339.56 392,337.08 393,334.21 394,332.87 395,331.99 396,332.59 397,333.58 398,337.08 399,332.79 400,332.85 401,333.14 402,336.24 403,334.25 404,333.72 405,331.71 406,331.27 407,332.52 408,335.21 409,332.7 410,332.33 411.5,329.86 413,330.81 414,330.22 415,332.69 416.5,330.99 418,332.35 419,332.49 420,335.4 421.5,333.85 423,336.94 424.5,334.55 426,335.5 427.33,334.89 428.67,336.07 430,335.65 431.33,336.23 432.67,334.04 434,335.04 435,334.43 436,337.16 437.33,334.99 438.67,336.25 440,335.71 441.25,337.18 442.5,335.39 443.75,337.2 445,335.41 446,337.85 447,338.38 448.5,341.37 450,341.14 451.5,342.07 453,341.48 454.5,344.16 456,343.05 457.5,343.8 459,342.57 460.5,344.78 462,345.76 463.5,344.99 465,341.64 466.5,344.75 468,345.36 469.5,344.17 471,340.67 472.5,343.11 474,343.16 475.5,343.8 477,342.39 478.5,344.9 480,345.54 481,346.77 482,344.2 483,349.24 484,352.3 485,359.5 486,342.8 487,362 488,363.1 489,355.9 490,348.7 491,352.9 492,357.1 493,360.1 494,363.1 495,364.3 496,365.5 497,362.75 498,360 499,360.95 500,361.9" fill="none" stroke="#e51b28" stroke-width="1.1" stroke-linejoin="round" />
<polyline points="381,363.16 382.5,361.9 384,363.86 385,360.67 386,359.19 387,354.94 388,352.46 389,348.39 390,347.68 391,343.51 392,342.55 393,340.1 394,340.43 395,338.92 396,339.35 397,337.6 398,338.64 399,337.18 400,338.26 401,338.57 402,341.42 403,338.66 404,338.64 405,338.65 406,340.34 407,336.89 408,336.6 409,334.78 410,335.39 411,332.65 412,333.69 413,333.59 414,335.32 415,335 416,336.81 417,336.45 418,338.49 419,337.57 420,338.35 421,337.64 422,339.89 423,337.54 424,337.79 425,336.33 426,337.57 427,335.84 428,336.02 429,332.23 430,332.88 431,331.49 432,333.54 433,330.55 434,330.08 435,328.23 436,329.3 437,327.43 438,327.25 439,325.65 440,327.01 441.5,324.36 443,324.31 444.5,325.03 446,328.62 447.5,328.44 449,330.71 450.5,328.03 452,327.58 453.5,327.33 455,329.88 456.5,326.86 458,325.96 459.5,325.51 461,327.42 462.5,326.64 464,327.53 465.5,327.47 467,329.83 468.5,327.65 470,327.39 471.5,327.23 473,329.07 474.5,326.04 476,326.67 477.5,325.34 479,327.35 480,324.83 481,325.45 482,324.08 483,324 483.2,363 483.4,340.4 485,344.94 486,340.89 487,344.34 488,345.85 489,348.97 490,350.82 491,355.13 492,356.91 493,359.72 494,356.94 495,357.18 496,357.15 497,361.39 498,361.1 499,362.41 500,357.92 501,356.93 502,356.87 503,359.5" fill="none" stroke="#1a1a1a" stroke-width="1.1" stroke-linejoin="round" />
<text x="381.5" y="313.7" font-size="11" text-anchor="middle" fill="#22a0e6" stroke="#22a0e6" stroke-width="0.12" >PE</text>
<polygon points="379.2,318 381.2,318 381.2,320.11 382.55,320.11 380.55,322.4 379.85,322.4 377.85,320.11 379.2,320.11" fill="#22a0e6"/>
<text x="445.4" y="312.9" font-size="11" text-anchor="middle" fill="#e51b28" stroke="#e51b28" stroke-width="0.25" >μM</text>
<line x1="410.1" y1="315" x2="474.4" y2="315" stroke="#e51b28" stroke-width="1"/>
<text x="487.2" y="314.1" font-size="11" text-anchor="middle" fill="#22a0e6" stroke="#22a0e6" stroke-width="0.12" >Wash</text>
<polygon points="481,317.9 483,317.9 483,320.01 484.35,320.01 482.35,322.3 481.65,322.3 479.65,320.01 481,320.01" fill="#22a0e6"/>
<text x="408.8" y="321.7" font-size="8.0" text-anchor="middle" fill="#e51b28" stroke="#e51b28" stroke-width="0.1" >0.1</text>
<polygon points="409.1,323.7 411.1,323.7 411.1,325.81 412.45,325.81 410.45,328.1 409.75,328.1 407.75,325.81 409.1,325.81" fill="#e51b28"/>
<text x="420.4" y="324.2" font-size="8.0" text-anchor="middle" fill="#e51b28" stroke="#e51b28" stroke-width="0.1" >0.3</text>
<polygon points="419.5,326.2 421.5,326.2 421.5,328.31 422.85,328.31 420.85,330.6 420.15,330.6 418.15,328.31 419.5,328.31" fill="#e51b28"/>
<text x="429.3" y="322.6" font-size="8.0" text-anchor="middle" fill="#e51b28" stroke="#e51b28" stroke-width="0.1" >1</text>
<polygon points="428.8,324.5 430.8,324.5 430.8,326.61 432.15,326.61 430.15,328.9 429.45,328.9 427.45,326.61 428.8,326.61" fill="#e51b28"/>
<text x="437.7" y="324.2" font-size="8.0" text-anchor="middle" fill="#e51b28" stroke="#e51b28" stroke-width="0.1" >3</text>
<polygon points="436.3,328 438.3,328 438.3,330.11 439.65,330.11 437.65,332.4 436.95,332.4 434.95,330.11 436.3,330.11" fill="#e51b28"/>
<text x="448.1" y="326" font-size="8.0" text-anchor="middle" fill="#e51b28" stroke="#e51b28" stroke-width="0.1" >10</text>
<polygon points="447.9,329.4 449.9,329.4 449.9,331.51 451.25,331.51 449.25,333.8 448.55,333.8 446.55,331.51 447.9,331.51" fill="#e51b28"/>
<text x="459.6" y="327.7" font-size="8.0" text-anchor="middle" fill="#e51b28" stroke="#e51b28" stroke-width="0.1" >30</text>
<polygon points="459.1,331.8 461.1,331.8 461.1,333.91 462.45,333.91 460.45,336.2 459.75,336.2 457.75,333.91 459.1,333.91" fill="#e51b28"/>
<text x="471.5" y="336" font-size="8.0" text-anchor="middle" fill="#e51b28" stroke="#e51b28" stroke-width="0.1" >100</text>
<polygon points="471,337.1 473,337.1 473,339.21 474.35,339.21 472.35,341.5 471.65,341.5 469.65,339.21 471,339.21" fill="#e51b28"/>
<line x1="401" y1="366" x2="410.8" y2="366" stroke="#444" stroke-width="1.1"/>
<text x="414.7" y="368.4" font-size="10.5" text-anchor="start" fill="#1c1c1c" stroke="#1c1c1c" stroke-width="0.25" >vehicle</text>
<line x1="401" y1="378" x2="410.8" y2="378" stroke="#ec3b45" stroke-width="1.1"/>
<text x="414.7" y="380.6" font-size="10.5" text-anchor="start" fill="#1c1c1c" stroke="#1c1c1c" stroke-width="0.25" >SNP</text>
<line x1="552" y1="304.3" x2="552" y2="395" stroke="#3a3a3a" stroke-width="1"/>
<line x1="549.2" y1="392.2" x2="685" y2="392.2" stroke="#3a3a3a" stroke-width="1"/>
<line x1="549.2" y1="304.3" x2="552" y2="304.3" stroke="#3a3a3a" stroke-width="1"/>
<text x="548" y="307.9" font-size="10.5" text-anchor="end" fill="#1c1c1c" stroke="#1c1c1c" stroke-width="0.25" >150</text>
<line x1="549.2" y1="321.9" x2="552" y2="321.9" stroke="#3a3a3a" stroke-width="1"/>
<text x="548" y="325.5" font-size="10.5" text-anchor="end" fill="#1c1c1c" stroke="#1c1c1c" stroke-width="0.25" >120</text>
<line x1="549.2" y1="339.5" x2="552" y2="339.5" stroke="#3a3a3a" stroke-width="1"/>
<text x="548" y="343.1" font-size="10.5" text-anchor="end" fill="#1c1c1c" stroke="#1c1c1c" stroke-width="0.25" >90</text>
<line x1="549.2" y1="357" x2="552" y2="357" stroke="#3a3a3a" stroke-width="1"/>
<text x="548" y="360.6" font-size="10.5" text-anchor="end" fill="#1c1c1c" stroke="#1c1c1c" stroke-width="0.25" >60</text>
<line x1="549.2" y1="374.6" x2="552" y2="374.6" stroke="#3a3a3a" stroke-width="1"/>
<text x="548" y="378.2" font-size="10.5" text-anchor="end" fill="#1c1c1c" stroke="#1c1c1c" stroke-width="0.25" >30</text>
<line x1="549.2" y1="392.2" x2="552" y2="392.2" stroke="#3a3a3a" stroke-width="1"/>
<text x="548" y="395.8" font-size="10.5" text-anchor="end" fill="#1c1c1c" stroke="#1c1c1c" stroke-width="0.25" >0</text>
<line x1="560.4" y1="392.2" x2="560.4" y2="395" stroke="#3a3a3a" stroke-width="1"/>
<text x="554.1" y="405.2" font-size="10.5" text-anchor="middle" fill="#1c1c1c" stroke="#1c1c1c" stroke-width="0.25" >Basal</text>
<line x1="577" y1="392.2" x2="577" y2="395" stroke="#3a3a3a" stroke-width="1"/>
<text x="576.2" y="405.2" font-size="10.5" text-anchor="middle" fill="#1c1c1c" stroke="#1c1c1c" stroke-width="0.25" >-7</text>
<line x1="593.5" y1="392.2" x2="593.5" y2="395" stroke="#3a3a3a" stroke-width="1"/>
<line x1="610" y1="392.2" x2="610" y2="395" stroke="#3a3a3a" stroke-width="1"/>
<text x="609.2" y="405.2" font-size="10.5" text-anchor="middle" fill="#1c1c1c" stroke="#1c1c1c" stroke-width="0.25" >-6</text>
<line x1="626.6" y1="392.2" x2="626.6" y2="395" stroke="#3a3a3a" stroke-width="1"/>
<line x1="643" y1="392.2" x2="643" y2="395" stroke="#3a3a3a" stroke-width="1"/>
<text x="642.2" y="405.2" font-size="10.5" text-anchor="middle" fill="#1c1c1c" stroke="#1c1c1c" stroke-width="0.25" >-5</text>
<line x1="659.6" y1="392.2" x2="659.6" y2="395" stroke="#3a3a3a" stroke-width="1"/>
<line x1="676.3" y1="392.2" x2="676.3" y2="395" stroke="#3a3a3a" stroke-width="1"/>
<text x="675.6" y="405.2" font-size="10.5" text-anchor="middle" fill="#1c1c1c" stroke="#1c1c1c" stroke-width="0.25" >-4</text>
<text x="612.2" y="414.9" font-size="10.65" text-anchor="middle" fill="#1c1c1c" stroke="#1c1c1c" stroke-width="0.25" >concentration (Log M)</text>
<text x="0" y="0" font-size="10.7" text-anchor="middle" fill="#1c1c1c" stroke="#1c1c1c" stroke-width="0.25" transform="translate(532.3,345.6) rotate(-90)">tension %</text>
<polyline points="560.1,333.7 576.8,328.9 593.5,333.5 609.8,327.5 627,327.5 642.7,334.2 659.9,336.6 676.2,336.6" fill="none" stroke="#1e1e1e" stroke-width="0.85" stroke-linejoin="round" />
<polyline points="560.1,333.7 576.8,334.9 593.5,329.4 609.8,336.6 627,340.9 642.7,343.7 659.9,358.8 676.2,360.4" fill="none" stroke="#ea3a42" stroke-width="0.85" stroke-linejoin="round" />
<circle cx="560.1" cy="333.7" r="2.55" fill="none" stroke="#ea3a42" stroke-width="1.0"/>
<line x1="576.8" y1="330.6" x2="576.8" y2="332.35" stroke="#ea3a42" stroke-width="0.9"/>
<line x1="576.8" y1="337.45" x2="576.8" y2="339" stroke="#ea3a42" stroke-width="0.9"/>
<line x1="573.9" y1="330.6" x2="579.7" y2="330.6" stroke="#ea3a42" stroke-width="0.9"/>
<line x1="573.9" y1="339" x2="579.7" y2="339" stroke="#ea3a42" stroke-width="0.9"/>
<circle cx="576.8" cy="334.9" r="2.55" fill="none" stroke="#ea3a42" stroke-width="1.0"/>
<line x1="593.5" y1="324.6" x2="593.5" y2="326.85" stroke="#ea3a42" stroke-width="0.9"/>
<line x1="593.5" y1="331.95" x2="593.5" y2="334.2" stroke="#ea3a42" stroke-width="0.9"/>
<line x1="590.6" y1="324.6" x2="596.4" y2="324.6" stroke="#ea3a42" stroke-width="0.9"/>
<line x1="590.6" y1="334.2" x2="596.4" y2="334.2" stroke="#ea3a42" stroke-width="0.9"/>
<circle cx="593.5" cy="329.4" r="2.55" fill="none" stroke="#ea3a42" stroke-width="1.0"/>
<line x1="609.8" y1="333" x2="609.8" y2="334.05" stroke="#ea3a42" stroke-width="0.9"/>
<line x1="609.8" y1="339.15" x2="609.8" y2="340.6" stroke="#ea3a42" stroke-width="0.9"/>
<line x1="606.9" y1="333" x2="612.7" y2="333" stroke="#ea3a42" stroke-width="0.9"/>
<line x1="606.9" y1="340.6" x2="612.7" y2="340.6" stroke="#ea3a42" stroke-width="0.9"/>
<circle cx="609.8" cy="336.6" r="2.55" fill="none" stroke="#ea3a42" stroke-width="1.0"/>
<line x1="627" y1="336.6" x2="627" y2="338.35" stroke="#ea3a42" stroke-width="0.9"/>
<line x1="627" y1="343.45" x2="627" y2="346.1" stroke="#ea3a42" stroke-width="0.9"/>
<line x1="624.1" y1="336.6" x2="629.9" y2="336.6" stroke="#ea3a42" stroke-width="0.9"/>
<line x1="624.1" y1="346.1" x2="629.9" y2="346.1" stroke="#ea3a42" stroke-width="0.9"/>
<circle cx="627" cy="340.9" r="2.55" fill="none" stroke="#ea3a42" stroke-width="1.0"/>
<line x1="639.8" y1="341.2" x2="645.6" y2="341.2" stroke="#ea3a42" stroke-width="0.9"/>
<line x1="639.8" y1="346.1" x2="645.6" y2="346.1" stroke="#ea3a42" stroke-width="0.9"/>
<circle cx="642.7" cy="343.7" r="2.55" fill="none" stroke="#ea3a42" stroke-width="1.0"/>
<line x1="659.9" y1="354" x2="659.9" y2="356.25" stroke="#ea3a42" stroke-width="0.9"/>
<line x1="659.9" y1="361.35" x2="659.9" y2="363.6" stroke="#ea3a42" stroke-width="0.9"/>
<line x1="657" y1="354" x2="662.8" y2="354" stroke="#ea3a42" stroke-width="0.9"/>
<line x1="657" y1="363.6" x2="662.8" y2="363.6" stroke="#ea3a42" stroke-width="0.9"/>
<circle cx="659.9" cy="358.8" r="2.55" fill="none" stroke="#ea3a42" stroke-width="1.0"/>
<line x1="676.2" y1="357.3" x2="676.2" y2="357.85" stroke="#ea3a42" stroke-width="0.9"/>
<line x1="676.2" y1="362.95" x2="676.2" y2="364.5" stroke="#ea3a42" stroke-width="0.9"/>
<line x1="673.3" y1="357.3" x2="679.1" y2="357.3" stroke="#ea3a42" stroke-width="0.9"/>
<line x1="673.3" y1="364.5" x2="679.1" y2="364.5" stroke="#ea3a42" stroke-width="0.9"/>
<circle cx="676.2" cy="360.4" r="2.55" fill="none" stroke="#ea3a42" stroke-width="1.0"/>
<line x1="576.8" y1="324.6" x2="576.8" y2="326.35" stroke="#1e1e1e" stroke-width="0.9"/>
<line x1="576.8" y1="331.45" x2="576.8" y2="332.5" stroke="#1e1e1e" stroke-width="0.9"/>
<line x1="573.9" y1="324.6" x2="579.7" y2="324.6" stroke="#1e1e1e" stroke-width="0.9"/>
<line x1="573.9" y1="332.5" x2="579.7" y2="332.5" stroke="#1e1e1e" stroke-width="0.9"/>
<circle cx="576.8" cy="328.9" r="2.55" fill="none" stroke="#1e1e1e" stroke-width="1.0"/>
<line x1="593.5" y1="325.8" x2="593.5" y2="330.95" stroke="#1e1e1e" stroke-width="0.9"/>
<line x1="593.5" y1="336.05" x2="593.5" y2="340.6" stroke="#1e1e1e" stroke-width="0.9"/>
<line x1="590.6" y1="325.8" x2="596.4" y2="325.8" stroke="#1e1e1e" stroke-width="0.9"/>
<line x1="590.6" y1="340.6" x2="596.4" y2="340.6" stroke="#1e1e1e" stroke-width="0.9"/>
<circle cx="593.5" cy="333.5" r="2.55" fill="none" stroke="#1e1e1e" stroke-width="1.0"/>
<line x1="609.8" y1="323.9" x2="609.8" y2="324.95" stroke="#1e1e1e" stroke-width="0.9"/>
<line x1="609.8" y1="330.05" x2="609.8" y2="331.1" stroke="#1e1e1e" stroke-width="0.9"/>
<line x1="606.9" y1="323.9" x2="612.7" y2="323.9" stroke="#1e1e1e" stroke-width="0.9"/>
<line x1="606.9" y1="331.1" x2="612.7" y2="331.1" stroke="#1e1e1e" stroke-width="0.9"/>
<circle cx="609.8" cy="327.5" r="2.55" fill="none" stroke="#1e1e1e" stroke-width="1.0"/>
<line x1="627" y1="324.6" x2="627" y2="324.95" stroke="#1e1e1e" stroke-width="0.9"/>
<line x1="627" y1="330.05" x2="627" y2="330.6" stroke="#1e1e1e" stroke-width="0.9"/>
<line x1="624.1" y1="324.6" x2="629.9" y2="324.6" stroke="#1e1e1e" stroke-width="0.9"/>
<line x1="624.1" y1="330.6" x2="629.9" y2="330.6" stroke="#1e1e1e" stroke-width="0.9"/>
<circle cx="627" cy="327.5" r="2.55" fill="none" stroke="#1e1e1e" stroke-width="1.0"/>
<line x1="642.7" y1="329.4" x2="642.7" y2="331.65" stroke="#1e1e1e" stroke-width="0.9"/>
<line x1="642.7" y1="336.75" x2="642.7" y2="339" stroke="#1e1e1e" stroke-width="0.9"/>
<line x1="639.8" y1="329.4" x2="645.6" y2="329.4" stroke="#1e1e1e" stroke-width="0.9"/>
<line x1="639.8" y1="339" x2="645.6" y2="339" stroke="#1e1e1e" stroke-width="0.9"/>
<circle cx="642.7" cy="334.2" r="2.55" fill="none" stroke="#1e1e1e" stroke-width="1.0"/>
<line x1="659.9" y1="331.8" x2="659.9" y2="334.05" stroke="#1e1e1e" stroke-width="0.9"/>
<line x1="659.9" y1="339.15" x2="659.9" y2="341.3" stroke="#1e1e1e" stroke-width="0.9"/>
<line x1="657" y1="331.8" x2="662.8" y2="331.8" stroke="#1e1e1e" stroke-width="0.9"/>
<line x1="657" y1="341.3" x2="662.8" y2="341.3" stroke="#1e1e1e" stroke-width="0.9"/>
<circle cx="659.9" cy="336.6" r="2.55" fill="none" stroke="#1e1e1e" stroke-width="1.0"/>
<circle cx="676.2" cy="336.6" r="2.55" fill="none" stroke="#1e1e1e" stroke-width="1.0"/>
<text x="658.7" y="327.9" font-size="10" text-anchor="middle" fill="#1c1c1c" stroke="#1c1c1c" stroke-width="0.25" >**</text>
<text x="676.6" y="331.4" font-size="10" text-anchor="middle" fill="#1c1c1c" stroke="#1c1c1c" stroke-width="0.25" >***</text>
<line x1="571.5" y1="365.5" x2="581.1" y2="365.5" stroke="#1e1e1e" stroke-width="0.9"/>
<circle cx="576.3" cy="365.5" r="2.6" fill="none" stroke="#1e1e1e" stroke-width="1.0"/>
<line x1="571.5" y1="377.9" x2="581.1" y2="377.9" stroke="#ea3a42" stroke-width="0.9"/>
<circle cx="576.3" cy="377.9" r="2.6" fill="none" stroke="#ea3a42" stroke-width="1.0"/>
<text x="584.7" y="369.1" font-size="10.5" text-anchor="start" fill="#1c1c1c" stroke="#1c1c1c" stroke-width="0.25" >vehicle</text>
<text x="584.7" y="381.5" font-size="10.5" text-anchor="start" fill="#1c1c1c" stroke="#1c1c1c" stroke-width="0.25" >SNP</text>
</svg></body></html>
